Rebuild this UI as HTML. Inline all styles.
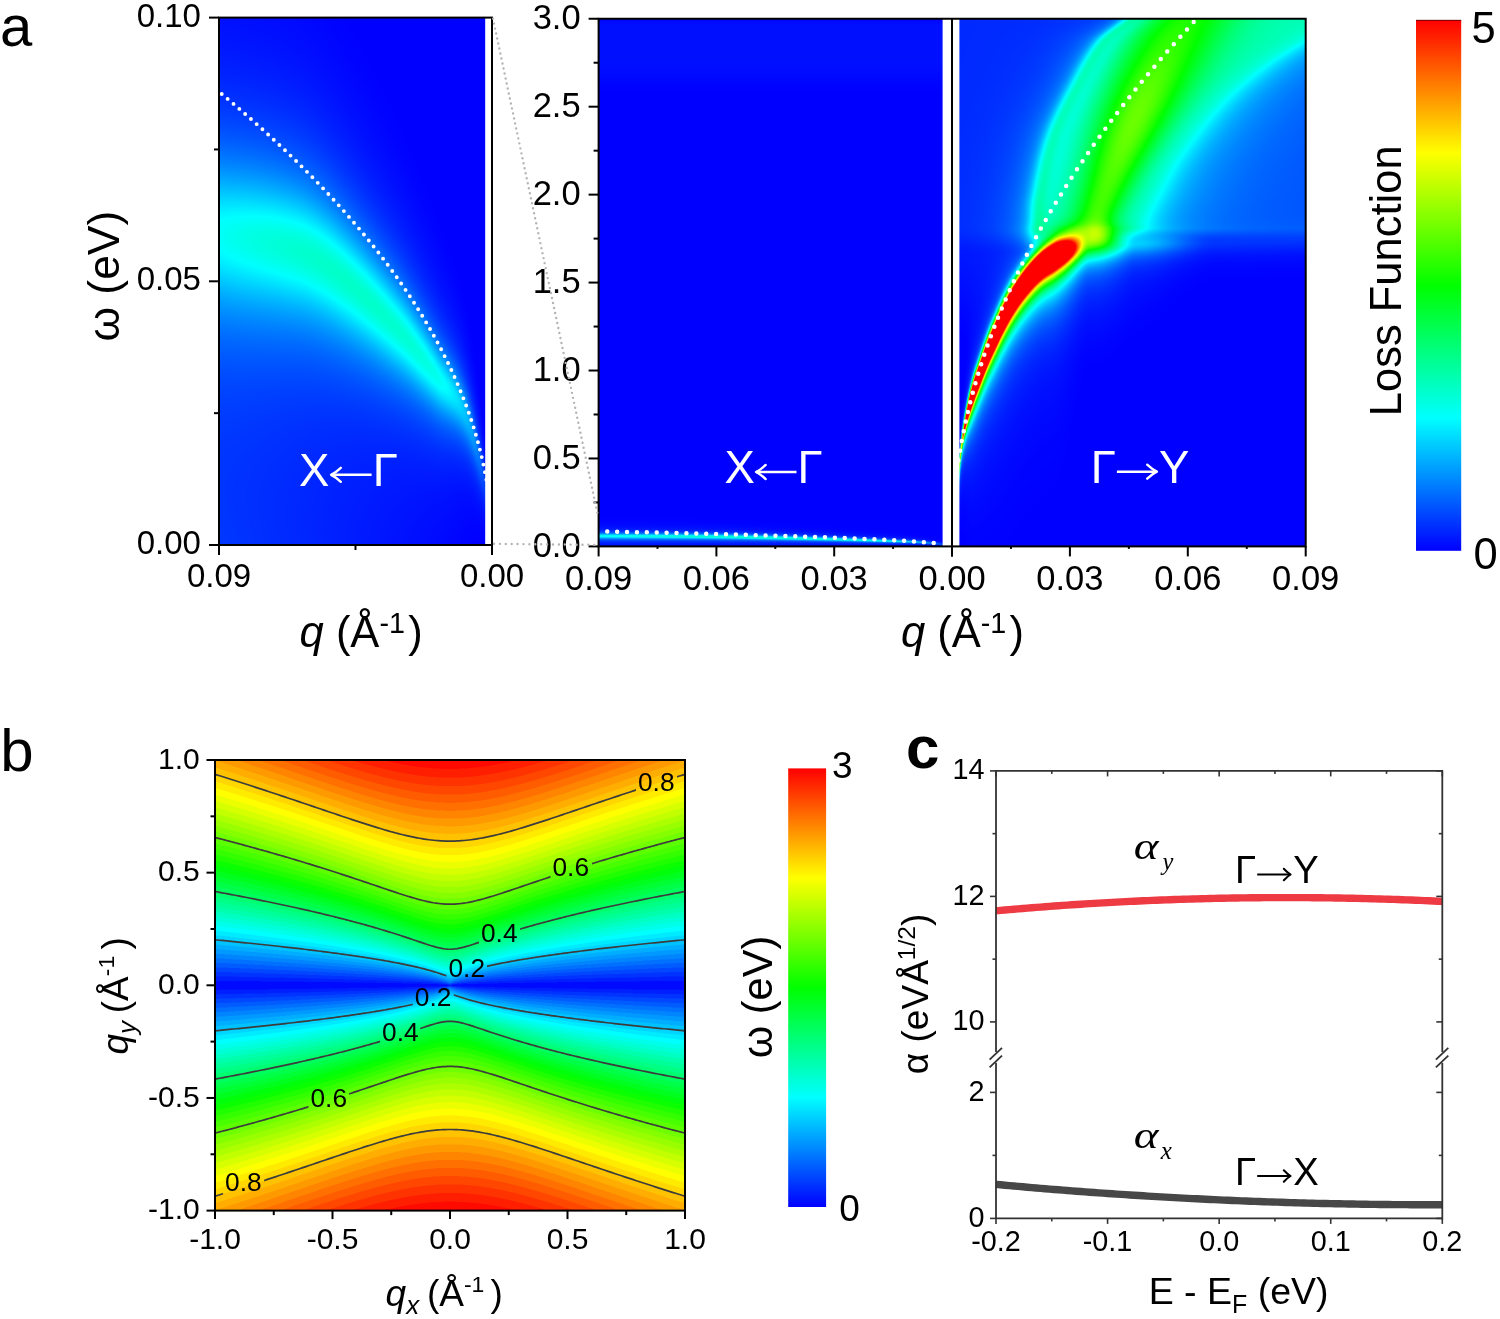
<!DOCTYPE html>
<html><head><meta charset="utf-8"><title>figure</title>
<style>
html,body{margin:0;padding:0;background:#fff;}
body{width:1500px;height:1319px;overflow:hidden;position:relative;font-family:'Liberation Sans', sans-serif;}
canvas{position:absolute;display:block;}
#ov{position:absolute;left:0;top:0;}
</style></head><body>
<canvas id="ca1" width="267" height="527" style="left:219px;top:18px;width:267px;height:527px;background:#0010ff"></canvas>
<canvas id="ca2" width="344" height="527" style="left:599px;top:19px;width:344px;height:527px;background:#0008f8"></canvas>
<canvas id="ca3" width="346" height="527" style="left:959px;top:19px;width:346px;height:527px;background:#0020ff"></canvas>
<canvas id="cb" width="470" height="451" style="left:215px;top:760px;width:470px;height:451px;background:linear-gradient(to bottom,#ff1000 0%,#ff9000 9%,#ffff00 21%,#00ff00 34%,#00ffff 44%,#0000ff 50%,#00ffff 56%,#00ff00 66%,#ffff00 79%,#ff9000 91%,#ff1000 100%)"></canvas>
<svg id="ov" width="1500" height="1319" viewBox="0 0 1500 1319">
<defs><linearGradient id="rb" x1="0" y1="1" x2="0" y2="0"><stop offset="0" stop-color="#0000ff"/><stop offset="0.25" stop-color="#00ffff"/><stop offset="0.5" stop-color="#00ff00"/><stop offset="0.75" stop-color="#ffff00"/><stop offset="1" stop-color="#ff0000"/></linearGradient></defs>
<rect x="485.2" y="18" width="6.5" height="527" fill="#fff"/>
<path d="M221.73 93.97 L222.34 94.48 L222.94 94.99 L223.55 95.49 L224.16 96 L224.76 96.51 L225.37 97.02 L225.98 97.53 L226.58 98.04 L227.19 98.55 L227.8 99.06 L228.4 99.57 L229.01 100.09 L229.62 100.6 L230.22 101.12 L230.83 101.63 L231.44 102.15 L232.04 102.66 L232.65 103.18 L233.26 103.69 L233.86 104.21 L234.47 104.73 L235.08 105.25 L235.68 105.77 L236.29 106.29 L236.9 106.81 L237.5 107.33 L238.11 107.85 L238.72 108.38 L239.32 108.9 L239.93 109.42 L240.54 109.95 L241.14 110.47 L241.75 111 L242.36 111.52 L242.96 112.05 L243.57 112.58 L244.18 113.11 L244.78 113.64 L245.39 114.17 L246 114.7 L246.6 115.23 L247.21 115.76 L247.82 116.29 L248.42 116.82 L249.03 117.36 L249.64 117.89 L250.24 118.43 L250.85 118.96 L251.46 119.5 L252.06 120.04 L252.67 120.57 L253.28 121.11 L253.88 121.65 L254.49 122.19 L255.1 122.73 L255.7 123.27 L256.31 123.81 L256.92 124.36 L257.52 124.9 L258.13 125.44 L258.74 125.99 L259.34 126.53 L259.95 127.08 L260.56 127.62 L261.16 128.17 L261.77 128.72 L262.38 129.27 L262.98 129.82 L263.59 130.37 L264.2 130.92 L264.8 131.47 L265.41 132.02 L266.02 132.58 L266.62 133.13 L267.23 133.69 L267.84 134.24 L268.44 134.8 L269.05 135.35 L269.66 135.91 L270.26 136.47 L270.87 137.03 L271.48 137.59 L272.08 138.15 L272.69 138.71 L273.3 139.27 L273.9 139.84 L274.51 140.4 L275.12 140.97 L275.72 141.53 L276.33 142.1 L276.94 142.66 L277.54 143.23 L278.15 143.8 L278.76 144.37 L279.36 144.94 L279.97 145.51 L280.58 146.08 L281.18 146.66 L281.79 147.23 L282.4 147.8 L283 148.38 L283.61 148.96 L284.22 149.53 L284.82 150.11 L285.43 150.69 L286.04 151.27 L286.64 151.85 L287.25 152.43 L287.86 153.01 L288.46 153.6 L289.07 154.18 L289.68 154.76 L290.28 155.35 L290.89 155.94 L291.5 156.52 L292.1 157.11 L292.71 157.7 L293.32 158.29 L293.92 158.88 L294.53 159.47 L295.14 160.07 L295.74 160.66 L296.35 161.25 L296.96 161.85 L297.56 162.45 L298.17 163.04 L298.78 163.64 L299.38 164.24 L299.99 164.84 L300.6 165.44 L301.2 166.04 L301.81 166.65 L302.42 167.25 L303.02 167.85 L303.63 168.46 L304.24 169.07 L304.84 169.68 L305.45 170.28 L306.06 170.89 L306.66 171.5 L307.27 172.12 L307.88 172.73 L308.48 173.34 L309.09 173.96 L309.7 174.57 L310.3 175.19 L310.91 175.81 L311.52 176.43 L312.12 177.05 L312.73 177.67 L313.34 178.29 L313.94 178.91 L314.55 179.54 L315.16 180.16 L315.76 180.79 L316.37 181.42 L316.98 182.05 L317.58 182.67 L318.19 183.31 L318.8 183.94 L319.4 184.57 L320.01 185.2 L320.62 185.84 L321.22 186.48 L321.83 187.11 L322.44 187.75 L323.04 188.39 L323.65 189.03 L324.26 189.67 L324.86 190.32 L325.47 190.96 L326.08 191.61 L326.68 192.25 L327.29 192.9 L327.9 193.55 L328.5 194.2 L329.11 194.85 L329.72 195.5 L330.32 196.16 L330.93 196.81 L331.54 197.47 L332.14 198.13 L332.75 198.79 L333.36 199.45 L333.96 200.11 L334.57 200.77 L335.18 201.43 L335.78 202.1 L336.39 202.77 L337 203.43 L337.6 204.1 L338.21 204.77 L338.82 205.44 L339.42 206.12 L340.03 206.79 L340.64 207.47 L341.24 208.15 L341.85 208.82 L342.46 209.5 L343.06 210.18 L343.67 210.87 L344.28 211.55 L344.88 212.24 L345.49 212.92 L346.1 213.61 L346.7 214.3 L347.31 214.99 L347.92 215.68 L348.52 216.38 L349.13 217.07 L349.74 217.77 L350.34 218.47 L350.95 219.17 L351.56 219.87 L352.16 220.57 L352.77 221.28 L353.38 221.98 L353.98 222.69 L354.59 223.4 L355.2 224.11 L355.8 224.82 L356.41 225.54 L357.02 226.25 L357.62 226.97 L358.23 227.69 L358.84 228.41 L359.44 229.13 L360.05 229.86 L360.66 230.58 L361.26 231.31 L361.87 232.04 L362.48 232.77 L363.08 233.5 L363.69 234.23 L364.3 234.97 L364.9 235.71 L365.51 236.44 L366.12 237.19 L366.72 237.93 L367.33 238.67 L367.94 239.42 L368.54 240.17 L369.15 240.92 L369.76 241.67 L370.36 242.42 L370.97 243.18 L371.58 243.94 L372.18 244.69 L372.79 245.46 L373.4 246.22 L374 246.98 L374.61 247.75 L375.22 248.52 L375.82 249.29 L376.43 250.06 L377.04 250.84 L377.64 251.62 L378.25 252.4 L378.86 253.18 L379.46 253.96 L380.07 254.75 L380.68 255.53 L381.28 256.32 L381.89 257.12 L382.5 257.91 L383.1 258.71 L383.71 259.5 L384.32 260.31 L384.92 261.11 L385.53 261.91 L386.14 262.72 L386.74 263.53 L387.35 264.34 L387.96 265.16 L388.56 265.98 L389.17 266.8 L389.78 267.62 L390.38 268.44 L390.99 269.27 L391.6 270.1 L392.2 270.93 L392.81 271.76 L393.42 272.6 L394.02 273.44 L394.63 274.28 L395.24 275.13 L395.84 275.97 L396.45 276.82 L397.06 277.68 L397.66 278.53 L398.27 279.39 L398.88 280.25 L399.48 281.12 L400.09 281.98 L400.7 282.85 L401.3 283.72 L401.91 284.6 L402.52 285.48 L403.12 286.36 L403.73 287.24 L404.34 288.13 L404.94 289.02 L405.55 289.91 L406.16 290.81 L406.76 291.71 L407.37 292.61 L407.98 293.52 L408.58 294.43 L409.19 295.34 L409.8 296.26 L410.4 297.18 L411.01 298.1 L411.62 299.03 L412.22 299.96 L412.83 300.89 L413.44 301.83 L414.04 302.77 L414.65 303.71 L415.26 304.66 L415.86 305.61 L416.47 306.57 L417.08 307.53 L417.68 308.49 L418.29 309.46 L418.9 310.43 L419.5 311.4 L420.11 312.38 L420.72 313.37 L421.32 314.36 L421.93 315.35 L422.54 316.34 L423.14 317.34 L423.75 318.35 L424.36 319.36 L424.96 320.37 L425.57 321.39 L426.18 322.42 L426.78 323.44 L427.39 324.48 L428 325.51 L428.6 326.56 L429.21 327.6 L429.82 328.66 L430.42 329.72 L431.03 330.78 L431.64 331.85 L432.24 332.92 L432.85 334 L433.46 335.09 L434.06 336.18 L434.67 337.27 L435.28 338.37 L435.88 339.48 L436.49 340.6 L437.1 341.72 L437.7 342.84 L438.31 343.97 L438.92 345.11 L439.52 346.26 L440.13 347.41 L440.74 348.57 L441.34 349.74 L441.95 350.91 L442.56 352.09 L443.16 353.28 L443.77 354.47 L444.38 355.67 L444.98 356.88 L445.59 358.1 L446.2 359.33 L446.8 360.56 L447.41 361.8 L448.02 363.05 L448.62 364.31 L449.23 365.58 L449.84 366.86 L450.44 368.14 L451.05 369.44 L451.66 370.74 L452.26 372.06 L452.87 373.38 L453.48 374.72 L454.08 376.06 L454.69 377.42 L455.3 378.79 L455.9 380.17 L456.51 381.56 L457.12 382.96 L457.72 384.38 L458.33 385.81 L458.94 387.25 L459.54 388.7 L460.15 390.17 L460.76 391.65 L461.36 393.15 L461.97 394.66 L462.58 396.18 L463.18 397.73 L463.79 399.28 L464.4 400.86 L465 402.45 L465.61 404.06 L466.22 405.69 L466.82 407.34 L467.43 409.01 L468.04 410.7 L468.64 412.41 L469.25 414.14 L469.86 415.9 L470.46 417.68 L471.07 419.49 L471.68 421.32 L472.28 423.18 L472.89 425.07 L473.5 426.99 L474.1 428.94 L474.71 430.92 L475.32 432.94 L475.92 435 L476.53 437.09 L477.14 439.23 L477.74 441.41 L478.35 443.64 L478.96 445.92 L479.56 448.25 L480.17 450.64 L480.78 453.09 L481.38 455.61 L481.99 458.2 L482.6 460.87 L483.2 463.63 L483.81 466.49 L484.42 469.45 L485.02 472.53 L485.63 475.76 L486.24 479.14 L486.84 482.7 L487.45 486.48" fill="none" stroke="#fff" stroke-width="3.9" stroke-linecap="round" stroke-dasharray="0 7.7"/>
<rect x="219" y="17.6" width="273" height="527.4" fill="none" stroke="#000" stroke-width="2"/>
<line x1="209" y1="545" x2="219" y2="545" stroke="#000" stroke-width="2" />
<line x1="214" y1="413.15" x2="219" y2="413.15" stroke="#000" stroke-width="2" />
<line x1="209" y1="281.3" x2="219" y2="281.3" stroke="#000" stroke-width="2" />
<line x1="214" y1="149.45" x2="219" y2="149.45" stroke="#000" stroke-width="2" />
<line x1="209" y1="17.6" x2="219" y2="17.6" stroke="#000" stroke-width="2" />
<line x1="219" y1="545" x2="219" y2="555" stroke="#000" stroke-width="2" />
<line x1="355.5" y1="545" x2="355.5" y2="550" stroke="#000" stroke-width="2" />
<line x1="492" y1="545" x2="492" y2="555" stroke="#000" stroke-width="2" />
<text x="200.9" y="553.9" font-size="33" text-anchor="end" fill="#000" font-family="'Liberation Sans', sans-serif" >0.00</text>
<text x="200.9" y="290.2" font-size="33" text-anchor="end" fill="#000" font-family="'Liberation Sans', sans-serif" >0.05</text>
<text x="200.9" y="26.5" font-size="33" text-anchor="end" fill="#000" font-family="'Liberation Sans', sans-serif" >0.10</text>
<text x="219" y="587.3" font-size="33" text-anchor="middle" fill="#000" font-family="'Liberation Sans', sans-serif" >0.09</text>
<text x="492" y="587.3" font-size="33" text-anchor="middle" fill="#000" font-family="'Liberation Sans', sans-serif" >0.00</text>
<text x="0" y="0" font-size="44.4" text-anchor="middle" fill="#000" font-family="'Liberation Sans', sans-serif" transform="translate(118.8,276.2) rotate(-90)">ω (eV)</text>
<text x="299.6" y="647.2" font-size="43.5" font-family="'Liberation Sans', sans-serif"><tspan font-style="italic">q</tspan> (Å<tspan font-size="28.71" dy="-14.36">-1</tspan><tspan dy="14.36" dx="3.26">)</tspan></text>
<rect x="942.6" y="19" width="16.8" height="527" fill="#fff"/>
<path d="M607.24 531.47 L608.42 531.49 L609.59 531.52 L610.77 531.55 L611.95 531.57 L613.13 531.6 L614.31 531.62 L615.48 531.65 L616.66 531.67 L617.84 531.7 L619.02 531.73 L620.2 531.75 L621.37 531.78 L622.55 531.8 L623.73 531.83 L624.91 531.86 L626.09 531.88 L627.26 531.91 L628.44 531.94 L629.62 531.96 L630.8 531.99 L631.98 532.01 L633.15 532.04 L634.33 532.07 L635.51 532.09 L636.69 532.12 L637.87 532.15 L639.04 532.17 L640.22 532.2 L641.4 532.23 L642.58 532.25 L643.76 532.28 L644.93 532.31 L646.11 532.34 L647.29 532.36 L648.47 532.39 L649.65 532.42 L650.82 532.44 L652 532.47 L653.18 532.5 L654.36 532.53 L655.54 532.55 L656.71 532.58 L657.89 532.61 L659.07 532.64 L660.25 532.66 L661.43 532.69 L662.6 532.72 L663.78 532.75 L664.96 532.78 L666.14 532.8 L667.32 532.83 L668.49 532.86 L669.67 532.89 L670.85 532.92 L672.03 532.94 L673.21 532.97 L674.38 533 L675.56 533.03 L676.74 533.06 L677.92 533.09 L679.1 533.12 L680.27 533.14 L681.45 533.17 L682.63 533.2 L683.81 533.23 L684.99 533.26 L686.16 533.29 L687.34 533.32 L688.52 533.35 L689.7 533.38 L690.88 533.41 L692.05 533.43 L693.23 533.46 L694.41 533.49 L695.59 533.52 L696.77 533.55 L697.94 533.58 L699.12 533.61 L700.3 533.64 L701.48 533.67 L702.66 533.7 L703.83 533.73 L705.01 533.76 L706.19 533.79 L707.37 533.82 L708.55 533.85 L709.72 533.88 L710.9 533.91 L712.08 533.94 L713.26 533.97 L714.44 534.01 L715.61 534.04 L716.79 534.07 L717.97 534.1 L719.15 534.13 L720.33 534.16 L721.5 534.19 L722.68 534.22 L723.86 534.25 L725.04 534.29 L726.22 534.32 L727.39 534.35 L728.57 534.38 L729.75 534.41 L730.93 534.44 L732.11 534.48 L733.28 534.51 L734.46 534.54 L735.64 534.57 L736.82 534.6 L738 534.64 L739.17 534.67 L740.35 534.7 L741.53 534.73 L742.71 534.77 L743.89 534.8 L745.06 534.83 L746.24 534.87 L747.42 534.9 L748.6 534.93 L749.78 534.96 L750.95 535 L752.13 535.03 L753.31 535.06 L754.49 535.1 L755.67 535.13 L756.84 535.17 L758.02 535.2 L759.2 535.23 L760.38 535.27 L761.56 535.3 L762.73 535.34 L763.91 535.37 L765.09 535.41 L766.27 535.44 L767.45 535.48 L768.62 535.51 L769.8 535.55 L770.98 535.58 L772.16 535.62 L773.34 535.65 L774.51 535.69 L775.69 535.72 L776.87 535.76 L778.05 535.79 L779.23 535.83 L780.4 535.87 L781.58 535.9 L782.76 535.94 L783.94 535.98 L785.12 536.01 L786.29 536.05 L787.47 536.09 L788.65 536.12 L789.83 536.16 L791.01 536.2 L792.18 536.23 L793.36 536.27 L794.54 536.31 L795.72 536.35 L796.9 536.39 L798.07 536.42 L799.25 536.46 L800.43 536.5 L801.61 536.54 L802.79 536.58 L803.96 536.62 L805.14 536.65 L806.32 536.69 L807.5 536.73 L808.68 536.77 L809.85 536.81 L811.03 536.85 L812.21 536.89 L813.39 536.93 L814.57 536.97 L815.74 537.01 L816.92 537.05 L818.1 537.09 L819.28 537.14 L820.46 537.18 L821.63 537.22 L822.81 537.26 L823.99 537.3 L825.17 537.34 L826.35 537.39 L827.52 537.43 L828.7 537.47 L829.88 537.51 L831.06 537.56 L832.24 537.6 L833.41 537.64 L834.59 537.69 L835.77 537.73 L836.95 537.77 L838.13 537.82 L839.3 537.86 L840.48 537.91 L841.66 537.95 L842.84 538 L844.02 538.04 L845.19 538.09 L846.37 538.14 L847.55 538.18 L848.73 538.23 L849.91 538.27 L851.08 538.32 L852.26 538.37 L853.44 538.42 L854.62 538.46 L855.8 538.51 L856.97 538.56 L858.15 538.61 L859.33 538.66 L860.51 538.71 L861.69 538.76 L862.86 538.81 L864.04 538.86 L865.22 538.91 L866.4 538.96 L867.58 539.01 L868.75 539.06 L869.93 539.12 L871.11 539.17 L872.29 539.22 L873.47 539.27 L874.64 539.33 L875.82 539.38 L877 539.44 L878.18 539.49 L879.36 539.55 L880.53 539.6 L881.71 539.66 L882.89 539.71 L884.07 539.77 L885.25 539.83 L886.42 539.89 L887.6 539.95 L888.78 540.01 L889.96 540.07 L891.14 540.13 L892.31 540.19 L893.49 540.25 L894.67 540.31 L895.85 540.37 L897.03 540.44 L898.2 540.5 L899.38 540.57 L900.56 540.63 L901.74 540.7 L902.92 540.77 L904.09 540.83 L905.27 540.9 L906.45 540.97 L907.63 541.04 L908.81 541.11 L909.98 541.19 L911.16 541.26 L912.34 541.34 L913.52 541.41 L914.7 541.49 L915.87 541.57 L917.05 541.65 L918.23 541.73 L919.41 541.81 L920.59 541.89 L921.76 541.98 L922.94 542.07 L924.12 542.15 L925.3 542.24 L926.48 542.34 L927.65 542.43 L928.83 542.53 L930.01 542.63 L931.19 542.73 L932.37 542.84 L933.54 542.95 L934.72 543.06 L935.9 543.17 L937.08 543.29 L938.26 543.42 L939.43 543.55 L940.61 543.69 L941.79 543.83 L942.97 543.98" fill="none" stroke="#fff" stroke-width="4.5" stroke-linecap="round" stroke-dasharray="0 9.9"/>
<clipPath id="a2rclip"><rect x="958.6" y="19" width="347" height="527"/></clipPath>
<path clip-path="url(#a2rclip)" d="M1193.7 22.12 L1193.3 22.54 L1192.91 22.97 L1192.52 23.4 L1192.12 23.82 L1191.73 24.25 L1191.34 24.68 L1190.94 25.11 L1190.55 25.54 L1190.16 25.97 L1189.76 26.4 L1189.37 26.83 L1188.98 27.26 L1188.59 27.69 L1188.19 28.12 L1187.8 28.55 L1187.41 28.98 L1187.01 29.41 L1186.62 29.85 L1186.23 30.28 L1185.83 30.71 L1185.44 31.14 L1185.05 31.58 L1184.66 32.01 L1184.26 32.45 L1183.87 32.88 L1183.48 33.32 L1183.08 33.75 L1182.69 34.19 L1182.3 34.63 L1181.9 35.06 L1181.51 35.5 L1181.12 35.94 L1180.73 36.38 L1180.33 36.81 L1179.94 37.25 L1179.55 37.69 L1179.15 38.13 L1178.76 38.57 L1178.37 39.01 L1177.97 39.45 L1177.58 39.89 L1177.19 40.33 L1176.8 40.78 L1176.4 41.22 L1176.01 41.66 L1175.62 42.1 L1175.22 42.55 L1174.83 42.99 L1174.44 43.44 L1174.04 43.88 L1173.65 44.32 L1173.26 44.77 L1172.87 45.22 L1172.47 45.66 L1172.08 46.11 L1171.69 46.56 L1171.29 47 L1170.9 47.45 L1170.51 47.9 L1170.11 48.35 L1169.72 48.8 L1169.33 49.25 L1168.94 49.69 L1168.54 50.14 L1168.15 50.6 L1167.76 51.05 L1167.36 51.5 L1166.97 51.95 L1166.58 52.4 L1166.18 52.85 L1165.79 53.31 L1165.4 53.76 L1165.01 54.21 L1164.61 54.67 L1164.22 55.12 L1163.83 55.58 L1163.43 56.03 L1163.04 56.49 L1162.65 56.95 L1162.25 57.4 L1161.86 57.86 L1161.47 58.32 L1161.08 58.78 L1160.68 59.23 L1160.29 59.69 L1159.9 60.15 L1159.5 60.61 L1159.11 61.07 L1158.72 61.53 L1158.32 61.99 L1157.93 62.46 L1157.54 62.92 L1157.15 63.38 L1156.75 63.84 L1156.36 64.31 L1155.97 64.77 L1155.57 65.23 L1155.18 65.7 L1154.79 66.16 L1154.39 66.63 L1154 67.1 L1153.61 67.56 L1153.22 68.03 L1152.82 68.5 L1152.43 68.97 L1152.04 69.43 L1151.64 69.9 L1151.25 70.37 L1150.86 70.84 L1150.46 71.31 L1150.07 71.78 L1149.68 72.25 L1149.29 72.72 L1148.89 73.2 L1148.5 73.67 L1148.11 74.14 L1147.71 74.62 L1147.32 75.09 L1146.93 75.56 L1146.53 76.04 L1146.14 76.51 L1145.75 76.99 L1145.36 77.47 L1144.96 77.94 L1144.57 78.42 L1144.18 78.9 L1143.78 79.38 L1143.39 79.85 L1143 80.33 L1142.6 80.81 L1142.21 81.29 L1141.82 81.77 L1141.43 82.26 L1141.03 82.74 L1140.64 83.22 L1140.25 83.7 L1139.85 84.19 L1139.46 84.67 L1139.07 85.15 L1138.67 85.64 L1138.28 86.12 L1137.89 86.61 L1137.5 87.1 L1137.1 87.58 L1136.71 88.07 L1136.32 88.56 L1135.92 89.05 L1135.53 89.54 L1135.14 90.02 L1134.74 90.51 L1134.35 91.01 L1133.96 91.5 L1133.57 91.99 L1133.17 92.48 L1132.78 92.97 L1132.39 93.47 L1131.99 93.96 L1131.6 94.45 L1131.21 94.95 L1130.81 95.44 L1130.42 95.94 L1130.03 96.44 L1129.64 96.93 L1129.24 97.43 L1128.85 97.93 L1128.46 98.43 L1128.06 98.93 L1127.67 99.43 L1127.28 99.93 L1126.88 100.43 L1126.49 100.93 L1126.1 101.43 L1125.71 101.93 L1125.31 102.44 L1124.92 102.94 L1124.53 103.44 L1124.13 103.95 L1123.74 104.45 L1123.35 104.96 L1122.95 105.47 L1122.56 105.97 L1122.17 106.48 L1121.78 106.99 L1121.38 107.5 L1120.99 108.01 L1120.6 108.52 L1120.2 109.03 L1119.81 109.54 L1119.42 110.05 L1119.02 110.56 L1118.63 111.08 L1118.24 111.59 L1117.85 112.1 L1117.45 112.62 L1117.06 113.13 L1116.67 113.65 L1116.27 114.17 L1115.88 114.68 L1115.49 115.2 L1115.09 115.72 L1114.7 116.24 L1114.31 116.76 L1113.92 117.28 L1113.52 117.8 L1113.13 118.32 L1112.74 118.85 L1112.34 119.37 L1111.95 119.89 L1111.56 120.42 L1111.16 120.94 L1110.77 121.47 L1110.38 121.99 L1109.99 122.52 L1109.59 123.05 L1109.2 123.58 L1108.81 124.11 L1108.41 124.63 L1108.02 125.17 L1107.63 125.7 L1107.23 126.23 L1106.84 126.76 L1106.45 127.29 L1106.06 127.83 L1105.66 128.36 L1105.27 128.9 L1104.88 129.43 L1104.48 129.97 L1104.09 130.5 L1103.7 131.04 L1103.3 131.58 L1102.91 132.12 L1102.52 132.66 L1102.13 133.2 L1101.73 133.74 L1101.34 134.28 L1100.95 134.83 L1100.55 135.37 L1100.16 135.91 L1099.77 136.46 L1099.37 137 L1098.98 137.55 L1098.59 138.1 L1098.2 138.64 L1097.8 139.19 L1097.41 139.74 L1097.02 140.29 L1096.62 140.84 L1096.23 141.39 L1095.84 141.95 L1095.44 142.5 L1095.05 143.05 L1094.66 143.61 L1094.27 144.16 L1093.87 144.72 L1093.48 145.27 L1093.09 145.83 L1092.69 146.39 L1092.3 146.95 L1091.91 147.51 L1091.51 148.07 L1091.12 148.63 L1090.73 149.19 L1090.34 149.76 L1089.94 150.32 L1089.55 150.88 L1089.16 151.45 L1088.76 152.02 L1088.37 152.58 L1087.98 153.15 L1087.58 153.72 L1087.19 154.29 L1086.8 154.86 L1086.41 155.43 L1086.01 156 L1085.62 156.58 L1085.23 157.15 L1084.83 157.72 L1084.44 158.3 L1084.05 158.88 L1083.65 159.45 L1083.26 160.03 L1082.87 160.61 L1082.48 161.19 L1082.08 161.77 L1081.69 162.35 L1081.3 162.93 L1080.9 163.52 L1080.51 164.1 L1080.12 164.69 L1079.72 165.27 L1079.33 165.86 L1078.94 166.45 L1078.55 167.04 L1078.15 167.62 L1077.76 168.22 L1077.37 168.81 L1076.97 169.4 L1076.58 169.99 L1076.19 170.59 L1075.79 171.18 L1075.4 171.78 L1075.01 172.37 L1074.62 172.97 L1074.22 173.57 L1073.83 174.17 L1073.44 174.77 L1073.04 175.37 L1072.65 175.98 L1072.26 176.58 L1071.86 177.19 L1071.47 177.79 L1071.08 178.4 L1070.69 179.01 L1070.29 179.61 L1069.9 180.22 L1069.51 180.83 L1069.11 181.45 L1068.72 182.06 L1068.33 182.67 L1067.93 183.29 L1067.54 183.9 L1067.15 184.52 L1066.76 185.14 L1066.36 185.76 L1065.97 186.38 L1065.58 187 L1065.18 187.62 L1064.79 188.25 L1064.4 188.87 L1064 189.5 L1063.61 190.12 L1063.22 190.75 L1062.83 191.38 L1062.43 192.01 L1062.04 192.64 L1061.65 193.27 L1061.25 193.91 L1060.86 194.54 L1060.47 195.18 L1060.07 195.81 L1059.68 196.45 L1059.29 197.09 L1058.9 197.73 L1058.5 198.37 L1058.11 199.02 L1057.72 199.66 L1057.32 200.3 L1056.93 200.95 L1056.54 201.6 L1056.14 202.25 L1055.75 202.9 L1055.36 203.55 L1054.97 204.2 L1054.57 204.85 L1054.18 205.51 L1053.79 206.16 L1053.39 206.82 L1053 207.48 L1052.61 208.14 L1052.21 208.8 L1051.82 209.47 L1051.43 210.13 L1051.04 210.79 L1050.64 211.46 L1050.25 212.13 L1049.86 212.8 L1049.46 213.47 L1049.07 214.14 L1048.68 214.81 L1048.28 215.49 L1047.89 216.16 L1047.5 216.84 L1047.11 217.52 L1046.71 218.2 L1046.32 218.88 L1045.93 219.57 L1045.53 220.25 L1045.14 220.94 L1044.75 221.62 L1044.35 222.31 L1043.96 223 L1043.57 223.69 L1043.18 224.39 L1042.78 225.08 L1042.39 225.78 L1042 226.48 L1041.6 227.18 L1041.21 227.88 L1040.82 228.58 L1040.42 229.28 L1040.03 229.99 L1039.64 230.69 L1039.25 231.4 L1038.85 232.11 L1038.46 232.83 L1038.07 233.54 L1037.67 234.25 L1037.28 234.97 L1036.89 235.69 L1036.49 236.41 L1036.1 237.13 L1035.71 237.85 L1035.32 238.58 L1034.92 239.31 L1034.53 240.04 L1034.14 240.77 L1033.74 241.5 L1033.35 242.23 L1032.96 242.97 L1032.56 243.7 L1032.17 244.44 L1031.78 245.18 L1031.39 245.93 L1030.99 246.67 L1030.6 247.42 L1030.21 248.17 L1029.81 248.92 L1029.42 249.67 L1029.03 250.42 L1028.63 251.18 L1028.24 251.94 L1027.85 252.7 L1027.46 253.46 L1027.06 254.22 L1026.67 254.99 L1026.28 255.76 L1025.88 256.53 L1025.49 257.3 L1025.1 258.07 L1024.7 258.85 L1024.31 259.63 L1023.92 260.41 L1023.53 261.19 L1023.13 261.97 L1022.74 262.76 L1022.35 263.55 L1021.95 264.34 L1021.56 265.13 L1021.17 265.93 L1020.77 266.73 L1020.38 267.53 L1019.99 268.33 L1019.6 269.14 L1019.2 269.94 L1018.81 270.75 L1018.42 271.56 L1018.02 272.38 L1017.63 273.2 L1017.24 274.01 L1016.84 274.84 L1016.45 275.66 L1016.06 276.49 L1015.67 277.32 L1015.27 278.15 L1014.88 278.98 L1014.49 279.82 L1014.09 280.66 L1013.7 281.5 L1013.31 282.35 L1012.91 283.19 L1012.52 284.04 L1012.13 284.9 L1011.74 285.75 L1011.34 286.61 L1010.95 287.47 L1010.56 288.34 L1010.16 289.21 L1009.77 290.08 L1009.38 290.95 L1008.98 291.83 L1008.59 292.71 L1008.2 293.59 L1007.81 294.47 L1007.41 295.36 L1007.02 296.25 L1006.63 297.15 L1006.23 298.05 L1005.84 298.95 L1005.45 299.85 L1005.05 300.76 L1004.66 301.67 L1004.27 302.59 L1003.88 303.51 L1003.48 304.43 L1003.09 305.35 L1002.7 306.28 L1002.3 307.21 L1001.91 308.15 L1001.52 309.09 L1001.12 310.03 L1000.73 310.98 L1000.34 311.93 L999.95 312.89 L999.55 313.85 L999.16 314.81 L998.77 315.78 L998.37 316.75 L997.98 317.72 L997.59 318.7 L997.19 319.69 L996.8 320.67 L996.41 321.67 L996.02 322.66 L995.62 323.66 L995.23 324.67 L994.84 325.68 L994.44 326.69 L994.05 327.71 L993.66 328.74 L993.26 329.77 L992.87 330.8 L992.48 331.84 L992.09 332.88 L991.69 333.93 L991.3 334.99 L990.91 336.05 L990.51 337.11 L990.12 338.18 L989.73 339.26 L989.33 340.34 L988.94 341.43 L988.55 342.52 L988.16 343.62 L987.76 344.73 L987.37 345.84 L986.98 346.95 L986.58 348.08 L986.19 349.21 L985.8 350.34 L985.4 351.49 L985.01 352.64 L984.62 353.79 L984.23 354.96 L983.83 356.13 L983.44 357.31 L983.05 358.49 L982.65 359.69 L982.26 360.89 L981.87 362.1 L981.47 363.31 L981.08 364.54 L980.69 365.77 L980.3 367.01 L979.9 368.26 L979.51 369.52 L979.12 370.79 L978.72 372.07 L978.33 373.35 L977.94 374.65 L977.54 375.95 L977.15 377.27 L976.76 378.6 L976.37 379.93 L975.97 381.28 L975.58 382.64 L975.19 384.01 L974.79 385.39 L974.4 386.79 L974.01 388.19 L973.61 389.61 L973.22 391.04 L972.83 392.49 L972.44 393.95 L972.04 395.42 L971.65 396.91 L971.26 398.41 L970.86 399.93 L970.47 401.46 L970.08 403.01 L969.68 404.58 L969.29 406.17 L968.9 407.77 L968.51 409.39 L968.11 411.03 L967.72 412.69 L967.33 414.37 L966.93 416.08 L966.54 417.8 L966.15 419.55 L965.75 421.33 L965.36 423.13 L964.97 424.95 L964.58 426.81 L964.18 428.69 L963.79 430.61 L963.4 432.55 L963 434.53 L962.61 436.55 L962.22 438.6 L961.82 440.69 L961.43 442.83 L961.04 445.01 L960.65 447.24 L960.25 449.52 L959.86 451.85 L959.47 454.25 L959.07 456.71 L958.68 459.23 L958.29 461.84" fill="none" stroke="#fff" stroke-width="4.5" stroke-linecap="round" stroke-dasharray="0 9.9"/>
<rect x="598.6" y="18.75" width="707.1" height="527.65" fill="none" stroke="#000" stroke-width="2"/>
<line x1="952" y1="18.75" x2="952" y2="546.4" stroke="#000" stroke-width="2" />
<line x1="588.6" y1="546.4" x2="598.6" y2="546.4" stroke="#000" stroke-width="2" />
<line x1="593.6" y1="502.43" x2="598.6" y2="502.43" stroke="#000" stroke-width="2" />
<line x1="588.6" y1="458.46" x2="598.6" y2="458.46" stroke="#000" stroke-width="2" />
<line x1="593.6" y1="414.49" x2="598.6" y2="414.49" stroke="#000" stroke-width="2" />
<line x1="588.6" y1="370.52" x2="598.6" y2="370.52" stroke="#000" stroke-width="2" />
<line x1="593.6" y1="326.55" x2="598.6" y2="326.55" stroke="#000" stroke-width="2" />
<line x1="588.6" y1="282.57" x2="598.6" y2="282.57" stroke="#000" stroke-width="2" />
<line x1="593.6" y1="238.6" x2="598.6" y2="238.6" stroke="#000" stroke-width="2" />
<line x1="588.6" y1="194.63" x2="598.6" y2="194.63" stroke="#000" stroke-width="2" />
<line x1="593.6" y1="150.66" x2="598.6" y2="150.66" stroke="#000" stroke-width="2" />
<line x1="588.6" y1="106.69" x2="598.6" y2="106.69" stroke="#000" stroke-width="2" />
<line x1="593.6" y1="62.72" x2="598.6" y2="62.72" stroke="#000" stroke-width="2" />
<line x1="588.6" y1="18.75" x2="598.6" y2="18.75" stroke="#000" stroke-width="2" />
<text x="580.6" y="556.5" font-size="34.5" text-anchor="end" fill="#000" font-family="'Liberation Sans', sans-serif" >0.0</text>
<text x="580.6" y="468.56" font-size="34.5" text-anchor="end" fill="#000" font-family="'Liberation Sans', sans-serif" >0.5</text>
<text x="580.6" y="380.62" font-size="34.5" text-anchor="end" fill="#000" font-family="'Liberation Sans', sans-serif" >1.0</text>
<text x="580.6" y="292.68" font-size="34.5" text-anchor="end" fill="#000" font-family="'Liberation Sans', sans-serif" >1.5</text>
<text x="580.6" y="204.73" font-size="34.5" text-anchor="end" fill="#000" font-family="'Liberation Sans', sans-serif" >2.0</text>
<text x="580.6" y="116.79" font-size="34.5" text-anchor="end" fill="#000" font-family="'Liberation Sans', sans-serif" >2.5</text>
<text x="580.6" y="28.85" font-size="34.5" text-anchor="end" fill="#000" font-family="'Liberation Sans', sans-serif" >3.0</text>
<line x1="952" y1="546.4" x2="952" y2="556.4" stroke="#000" stroke-width="2" />
<line x1="952" y1="546.4" x2="952" y2="556.4" stroke="#000" stroke-width="2" />
<line x1="893.1" y1="546.4" x2="893.1" y2="548.9" stroke="#000" stroke-width="2" />
<line x1="1010.95" y1="546.4" x2="1010.95" y2="548.9" stroke="#000" stroke-width="2" />
<line x1="834.2" y1="546.4" x2="834.2" y2="556.4" stroke="#000" stroke-width="2" />
<line x1="1069.9" y1="546.4" x2="1069.9" y2="556.4" stroke="#000" stroke-width="2" />
<line x1="775.3" y1="546.4" x2="775.3" y2="548.9" stroke="#000" stroke-width="2" />
<line x1="1128.85" y1="546.4" x2="1128.85" y2="548.9" stroke="#000" stroke-width="2" />
<line x1="716.4" y1="546.4" x2="716.4" y2="556.4" stroke="#000" stroke-width="2" />
<line x1="1187.8" y1="546.4" x2="1187.8" y2="556.4" stroke="#000" stroke-width="2" />
<line x1="657.5" y1="546.4" x2="657.5" y2="548.9" stroke="#000" stroke-width="2" />
<line x1="1246.75" y1="546.4" x2="1246.75" y2="548.9" stroke="#000" stroke-width="2" />
<line x1="598.6" y1="546.4" x2="598.6" y2="556.4" stroke="#000" stroke-width="2" />
<line x1="1305.7" y1="546.4" x2="1305.7" y2="556.4" stroke="#000" stroke-width="2" />
<text x="598.6" y="590.3" font-size="34.5" text-anchor="middle" fill="#000" font-family="'Liberation Sans', sans-serif" >0.09</text>
<text x="1305.7" y="590.3" font-size="34.5" text-anchor="middle" fill="#000" font-family="'Liberation Sans', sans-serif" >0.09</text>
<text x="716.4" y="590.3" font-size="34.5" text-anchor="middle" fill="#000" font-family="'Liberation Sans', sans-serif" >0.06</text>
<text x="1187.8" y="590.3" font-size="34.5" text-anchor="middle" fill="#000" font-family="'Liberation Sans', sans-serif" >0.06</text>
<text x="834.2" y="590.3" font-size="34.5" text-anchor="middle" fill="#000" font-family="'Liberation Sans', sans-serif" >0.03</text>
<text x="1069.9" y="590.3" font-size="34.5" text-anchor="middle" fill="#000" font-family="'Liberation Sans', sans-serif" >0.03</text>
<text x="952" y="590.3" font-size="34.5" text-anchor="middle" fill="#000" font-family="'Liberation Sans', sans-serif" >0.00</text>
<text x="901" y="647.2" font-size="43.5" font-family="'Liberation Sans', sans-serif"><tspan font-style="italic">q</tspan> (Å<tspan font-size="28.71" dy="-14.36">-1</tspan><tspan dy="14.36" dx="3.26">)</tspan></text>
<path d="M493 18.6 L598.1 516.5" stroke="#b4b4b4" stroke-width="2.4" stroke-linecap="round" stroke-dasharray="0 5.1" fill="none"/>
<path d="M494 543.8 L596.6 544.9" stroke="#b4b4b4" stroke-width="2.4" stroke-linecap="round" stroke-dasharray="0 5.9" fill="none"/>
<text x="299.08" y="485.7" font-size="45.5" text-anchor="start" fill="#fff" font-family="'Liberation Sans', sans-serif" >X</text>
<path d="M371.6 474.8 L331 474.8" stroke="#fff" stroke-width="2.4" fill="none"/>
<path d="M340.8 467.76 Q335.4 472.8 331.08 474.8 Q335.4 476.8 340.8 481.84" stroke="#fff" stroke-width="2.4" stroke-linecap="round" stroke-linejoin="round" fill="none"/>
<text x="372.77" y="485.7" font-size="45.5" text-anchor="start" fill="#fff" font-family="'Liberation Sans', sans-serif" >Γ</text>
<text x="724.48" y="483.2" font-size="45.5" text-anchor="start" fill="#fff" font-family="'Liberation Sans', sans-serif" >X</text>
<path d="M796.5 472 L755.9 472" stroke="#fff" stroke-width="2.4" fill="none"/>
<path d="M765.7 464.96 Q760.3 470 755.98 472 Q760.3 474 765.7 479.04" stroke="#fff" stroke-width="2.4" stroke-linecap="round" stroke-linejoin="round" fill="none"/>
<text x="797.57" y="483.2" font-size="45.5" text-anchor="start" fill="#fff" font-family="'Liberation Sans', sans-serif" >Γ</text>
<text x="1090.77" y="482.7" font-size="45.5" text-anchor="start" fill="#fff" font-family="'Liberation Sans', sans-serif" >Γ</text>
<path d="M1116.9 471.7 L1157 471.7" stroke="#fff" stroke-width="2.4" fill="none"/>
<path d="M1147.2 464.66 Q1152.6 469.7 1156.92 471.7 Q1152.6 473.7 1147.2 478.74" stroke="#fff" stroke-width="2.4" stroke-linecap="round" stroke-linejoin="round" fill="none"/>
<text x="1159.1" y="482.7" font-size="45.5" text-anchor="start" fill="#fff" font-family="'Liberation Sans', sans-serif" >Y</text>
<rect x="1416" y="20" width="45.2" height="530.8" fill="url(#rb)"/>
<line x1="1416" y1="20.3" x2="1461.2" y2="20.3" stroke="#400" stroke-width="0.8"/>
<text x="1471.56" y="43.3" font-size="43.5" text-anchor="start" fill="#000" font-family="'Liberation Sans', sans-serif" >5</text>
<text x="1473.6" y="569.1" font-size="43.5" text-anchor="start" fill="#000" font-family="'Liberation Sans', sans-serif" >0</text>
<text x="0" y="0" font-size="43.5" text-anchor="middle" fill="#000" font-family="'Liberation Sans', sans-serif" transform="translate(1401.2,280.8) rotate(-90)">Loss Function</text>
<text x="0" y="46.2" font-size="58" text-anchor="start" fill="#000" font-family="'Liberation Sans', sans-serif" >a</text>
<defs><mask id="lblmask" maskUnits="userSpaceOnUse" x="0" y="0" width="1500" height="1319"><rect x="0" y="0" width="1500" height="1319" fill="#fff"/>
<rect x="636" y="773.8" width="41" height="21.4" fill="#000"/>
<rect x="550.5" y="855.4" width="41.5" height="24.3" fill="#000"/>
<rect x="479" y="922.6" width="41" height="22.8" fill="#000"/>
<rect x="446.5" y="955.1" width="40.5" height="25.5" fill="#000"/>
<rect x="412.8" y="987.4" width="41" height="22.8" fill="#000"/>
<rect x="380.1" y="1021" width="40.1" height="23.8" fill="#000"/>
<rect x="308.5" y="1086.8" width="40.6" height="24.2" fill="#000"/>
<rect x="223.1" y="1169.9" width="41" height="25.1" fill="#000"/>
</mask><clipPath id="bclip"><rect x="215" y="760" width="470" height="450.6"/></clipPath></defs>
<g mask="url(#lblmask)" clip-path="url(#bclip)" fill="none" stroke="#3c3c3c" stroke-width="1.7">
<path d="M215 939.79 L217.35 940.01 L219.7 940.24 L222.05 940.46 L224.4 940.69 L226.75 940.92 L229.1 941.15 L231.45 941.38 L233.8 941.61 L236.15 941.84 L238.5 942.07 L240.85 942.31 L243.2 942.55 L245.55 942.78 L247.9 943.02 L250.25 943.27 L252.6 943.51 L254.95 943.75 L257.3 944 L259.65 944.24 L262 944.49 L264.35 944.74 L266.7 944.99 L269.05 945.24 L271.4 945.5 L273.75 945.75 L276.1 946.01 L278.45 946.27 L280.8 946.53 L283.15 946.79 L285.5 947.06 L287.85 947.32 L290.2 947.59 L292.55 947.86 L294.9 948.13 L297.25 948.41 L299.6 948.68 L301.95 948.96 L304.3 949.24 L306.65 949.53 L309 949.81 L311.35 950.1 L313.7 950.39 L316.05 950.68 L318.4 950.97 L320.75 951.27 L323.1 951.57 L325.45 951.87 L327.8 952.18 L330.15 952.48 L332.5 952.79 L334.85 953.11 L337.2 953.42 L339.55 953.74 L341.9 954.07 L344.25 954.39 L346.6 954.72 L348.95 955.06 L351.3 955.39 L353.65 955.74 L356 956.08 L358.35 956.43 L360.7 956.78 L363.05 957.14 L365.4 957.5 L367.75 957.87 L370.1 958.24 L372.45 958.62 L374.8 959 L377.15 959.39 L379.5 959.78 L381.85 960.18 L384.2 960.59 L386.55 961 L388.9 961.42 L391.25 961.85 L393.6 962.29 L395.95 962.73 L398.3 963.18 L400.65 963.65 L403 964.12 L405.35 964.6 L407.7 965.09 L410.05 965.6 L412.4 966.12 L414.75 966.65 L417.1 967.2 L419.45 967.76 L421.8 968.34 L424.15 968.94 L426.5 969.56 L428.85 970.21 L431.2 970.88 L433.55 971.57 L435.9 972.3 L438.25 973.05 L440.6 973.84 L442.95 974.63 L445.3 975.4 L447.65 976.03 L450 976.29 L452.35 976.03 L454.7 975.4 L457.05 974.63 L459.4 973.84 L461.75 973.05 L464.1 972.3 L466.45 971.57 L468.8 970.88 L471.15 970.21 L473.5 969.56 L475.85 968.94 L478.2 968.34 L480.55 967.76 L482.9 967.2 L485.25 966.65 L487.6 966.12 L489.95 965.6 L492.3 965.09 L494.65 964.6 L497 964.12 L499.35 963.65 L501.7 963.18 L504.05 962.73 L506.4 962.29 L508.75 961.85 L511.1 961.42 L513.45 961 L515.8 960.59 L518.15 960.18 L520.5 959.78 L522.85 959.39 L525.2 959 L527.55 958.62 L529.9 958.24 L532.25 957.87 L534.6 957.5 L536.95 957.14 L539.3 956.78 L541.65 956.43 L544 956.08 L546.35 955.74 L548.7 955.39 L551.05 955.06 L553.4 954.72 L555.75 954.39 L558.1 954.07 L560.45 953.74 L562.8 953.42 L565.15 953.11 L567.5 952.79 L569.85 952.48 L572.2 952.18 L574.55 951.87 L576.9 951.57 L579.25 951.27 L581.6 950.97 L583.95 950.68 L586.3 950.39 L588.65 950.1 L591 949.81 L593.35 949.53 L595.7 949.24 L598.05 948.96 L600.4 948.68 L602.75 948.41 L605.1 948.13 L607.45 947.86 L609.8 947.59 L612.15 947.32 L614.5 947.06 L616.85 946.79 L619.2 946.53 L621.55 946.27 L623.9 946.01 L626.25 945.75 L628.6 945.5 L630.95 945.24 L633.3 944.99 L635.65 944.74 L638 944.49 L640.35 944.24 L642.7 944 L645.05 943.75 L647.4 943.51 L649.75 943.27 L652.1 943.02 L654.45 942.78 L656.8 942.55 L659.15 942.31 L661.5 942.07 L663.85 941.84 L666.2 941.61 L668.55 941.38 L670.9 941.15 L673.25 940.92 L675.6 940.69 L677.95 940.46 L680.3 940.24 L682.65 940.01 L685 939.79"/>
<path d="M215 1030.81 L217.35 1030.59 L219.7 1030.36 L222.05 1030.14 L224.4 1029.91 L226.75 1029.68 L229.1 1029.45 L231.45 1029.22 L233.8 1028.99 L236.15 1028.76 L238.5 1028.53 L240.85 1028.29 L243.2 1028.05 L245.55 1027.82 L247.9 1027.58 L250.25 1027.33 L252.6 1027.09 L254.95 1026.85 L257.3 1026.6 L259.65 1026.36 L262 1026.11 L264.35 1025.86 L266.7 1025.61 L269.05 1025.36 L271.4 1025.1 L273.75 1024.85 L276.1 1024.59 L278.45 1024.33 L280.8 1024.07 L283.15 1023.81 L285.5 1023.54 L287.85 1023.28 L290.2 1023.01 L292.55 1022.74 L294.9 1022.47 L297.25 1022.19 L299.6 1021.92 L301.95 1021.64 L304.3 1021.36 L306.65 1021.07 L309 1020.79 L311.35 1020.5 L313.7 1020.21 L316.05 1019.92 L318.4 1019.63 L320.75 1019.33 L323.1 1019.03 L325.45 1018.73 L327.8 1018.42 L330.15 1018.12 L332.5 1017.81 L334.85 1017.49 L337.2 1017.18 L339.55 1016.86 L341.9 1016.53 L344.25 1016.21 L346.6 1015.88 L348.95 1015.54 L351.3 1015.21 L353.65 1014.86 L356 1014.52 L358.35 1014.17 L360.7 1013.82 L363.05 1013.46 L365.4 1013.1 L367.75 1012.73 L370.1 1012.36 L372.45 1011.98 L374.8 1011.6 L377.15 1011.21 L379.5 1010.82 L381.85 1010.42 L384.2 1010.01 L386.55 1009.6 L388.9 1009.18 L391.25 1008.75 L393.6 1008.31 L395.95 1007.87 L398.3 1007.42 L400.65 1006.95 L403 1006.48 L405.35 1006 L407.7 1005.51 L410.05 1005 L412.4 1004.48 L414.75 1003.95 L417.1 1003.4 L419.45 1002.84 L421.8 1002.26 L424.15 1001.66 L426.5 1001.04 L428.85 1000.39 L431.2 999.72 L433.55 999.03 L435.9 998.3 L438.25 997.55 L440.6 996.76 L442.95 995.97 L445.3 995.2 L447.65 994.57 L450 994.31 L452.35 994.57 L454.7 995.2 L457.05 995.97 L459.4 996.76 L461.75 997.55 L464.1 998.3 L466.45 999.03 L468.8 999.72 L471.15 1000.39 L473.5 1001.04 L475.85 1001.66 L478.2 1002.26 L480.55 1002.84 L482.9 1003.4 L485.25 1003.95 L487.6 1004.48 L489.95 1005 L492.3 1005.51 L494.65 1006 L497 1006.48 L499.35 1006.95 L501.7 1007.42 L504.05 1007.87 L506.4 1008.31 L508.75 1008.75 L511.1 1009.18 L513.45 1009.6 L515.8 1010.01 L518.15 1010.42 L520.5 1010.82 L522.85 1011.21 L525.2 1011.6 L527.55 1011.98 L529.9 1012.36 L532.25 1012.73 L534.6 1013.1 L536.95 1013.46 L539.3 1013.82 L541.65 1014.17 L544 1014.52 L546.35 1014.86 L548.7 1015.21 L551.05 1015.54 L553.4 1015.88 L555.75 1016.21 L558.1 1016.53 L560.45 1016.86 L562.8 1017.18 L565.15 1017.49 L567.5 1017.81 L569.85 1018.12 L572.2 1018.42 L574.55 1018.73 L576.9 1019.03 L579.25 1019.33 L581.6 1019.63 L583.95 1019.92 L586.3 1020.21 L588.65 1020.5 L591 1020.79 L593.35 1021.07 L595.7 1021.36 L598.05 1021.64 L600.4 1021.92 L602.75 1022.19 L605.1 1022.47 L607.45 1022.74 L609.8 1023.01 L612.15 1023.28 L614.5 1023.54 L616.85 1023.81 L619.2 1024.07 L621.55 1024.33 L623.9 1024.59 L626.25 1024.85 L628.6 1025.1 L630.95 1025.36 L633.3 1025.61 L635.65 1025.86 L638 1026.11 L640.35 1026.36 L642.7 1026.6 L645.05 1026.85 L647.4 1027.09 L649.75 1027.33 L652.1 1027.58 L654.45 1027.82 L656.8 1028.05 L659.15 1028.29 L661.5 1028.53 L663.85 1028.76 L666.2 1028.99 L668.55 1029.22 L670.9 1029.45 L673.25 1029.68 L675.6 1029.91 L677.95 1030.14 L680.3 1030.36 L682.65 1030.59 L685 1030.81"/>
<path d="M215 891.51 L217.35 891.94 L219.7 892.37 L222.05 892.81 L224.4 893.25 L226.75 893.69 L229.1 894.13 L231.45 894.58 L233.8 895.02 L236.15 895.47 L238.5 895.92 L240.85 896.38 L243.2 896.83 L245.55 897.29 L247.9 897.75 L250.25 898.22 L252.6 898.68 L254.95 899.15 L257.3 899.62 L259.65 900.09 L262 900.57 L264.35 901.05 L266.7 901.53 L269.05 902.01 L271.4 902.5 L273.75 902.99 L276.1 903.48 L278.45 903.97 L280.8 904.47 L283.15 904.97 L285.5 905.48 L287.85 905.98 L290.2 906.49 L292.55 907.01 L294.9 907.52 L297.25 908.04 L299.6 908.57 L301.95 909.09 L304.3 909.62 L306.65 910.16 L309 910.7 L311.35 911.24 L313.7 911.78 L316.05 912.33 L318.4 912.88 L320.75 913.44 L323.1 914 L325.45 914.57 L327.8 915.14 L330.15 915.71 L332.5 916.29 L334.85 916.87 L337.2 917.46 L339.55 918.06 L341.9 918.65 L344.25 919.26 L346.6 919.86 L348.95 920.48 L351.3 921.1 L353.65 921.72 L356 922.35 L358.35 922.99 L360.7 923.63 L363.05 924.27 L365.4 924.93 L367.75 925.59 L370.1 926.25 L372.45 926.93 L374.8 927.61 L377.15 928.29 L379.5 928.99 L381.85 929.69 L384.2 930.39 L386.55 931.11 L388.9 931.83 L391.25 932.56 L393.6 933.3 L395.95 934.04 L398.3 934.79 L400.65 935.55 L403 936.32 L405.35 937.09 L407.7 937.87 L410.05 938.66 L412.4 939.45 L414.75 940.24 L417.1 941.04 L419.45 941.83 L421.8 942.63 L424.15 943.41 L426.5 944.19 L428.85 944.96 L431.2 945.69 L433.55 946.4 L435.9 947.07 L438.25 947.67 L440.6 948.2 L442.95 948.64 L445.3 948.98 L447.65 949.18 L450 949.25 L452.35 949.18 L454.7 948.98 L457.05 948.64 L459.4 948.2 L461.75 947.67 L464.1 947.07 L466.45 946.4 L468.8 945.69 L471.15 944.96 L473.5 944.19 L475.85 943.41 L478.2 942.63 L480.55 941.83 L482.9 941.04 L485.25 940.24 L487.6 939.45 L489.95 938.66 L492.3 937.87 L494.65 937.09 L497 936.32 L499.35 935.55 L501.7 934.79 L504.05 934.04 L506.4 933.3 L508.75 932.56 L511.1 931.83 L513.45 931.11 L515.8 930.39 L518.15 929.69 L520.5 928.99 L522.85 928.29 L525.2 927.61 L527.55 926.93 L529.9 926.25 L532.25 925.59 L534.6 924.93 L536.95 924.27 L539.3 923.63 L541.65 922.99 L544 922.35 L546.35 921.72 L548.7 921.1 L551.05 920.48 L553.4 919.86 L555.75 919.26 L558.1 918.65 L560.45 918.06 L562.8 917.46 L565.15 916.87 L567.5 916.29 L569.85 915.71 L572.2 915.14 L574.55 914.57 L576.9 914 L579.25 913.44 L581.6 912.88 L583.95 912.33 L586.3 911.78 L588.65 911.24 L591 910.7 L593.35 910.16 L595.7 909.62 L598.05 909.09 L600.4 908.57 L602.75 908.04 L605.1 907.52 L607.45 907.01 L609.8 906.49 L612.15 905.98 L614.5 905.48 L616.85 904.97 L619.2 904.47 L621.55 903.97 L623.9 903.48 L626.25 902.99 L628.6 902.5 L630.95 902.01 L633.3 901.53 L635.65 901.05 L638 900.57 L640.35 900.09 L642.7 899.62 L645.05 899.15 L647.4 898.68 L649.75 898.22 L652.1 897.75 L654.45 897.29 L656.8 896.83 L659.15 896.38 L661.5 895.92 L663.85 895.47 L666.2 895.02 L668.55 894.58 L670.9 894.13 L673.25 893.69 L675.6 893.25 L677.95 892.81 L680.3 892.37 L682.65 891.94 L685 891.51"/>
<path d="M215 1079.09 L217.35 1078.66 L219.7 1078.23 L222.05 1077.79 L224.4 1077.35 L226.75 1076.91 L229.1 1076.47 L231.45 1076.02 L233.8 1075.58 L236.15 1075.13 L238.5 1074.68 L240.85 1074.22 L243.2 1073.77 L245.55 1073.31 L247.9 1072.85 L250.25 1072.38 L252.6 1071.92 L254.95 1071.45 L257.3 1070.98 L259.65 1070.51 L262 1070.03 L264.35 1069.55 L266.7 1069.07 L269.05 1068.59 L271.4 1068.1 L273.75 1067.61 L276.1 1067.12 L278.45 1066.63 L280.8 1066.13 L283.15 1065.63 L285.5 1065.12 L287.85 1064.62 L290.2 1064.11 L292.55 1063.59 L294.9 1063.08 L297.25 1062.56 L299.6 1062.03 L301.95 1061.51 L304.3 1060.98 L306.65 1060.44 L309 1059.9 L311.35 1059.36 L313.7 1058.82 L316.05 1058.27 L318.4 1057.72 L320.75 1057.16 L323.1 1056.6 L325.45 1056.03 L327.8 1055.46 L330.15 1054.89 L332.5 1054.31 L334.85 1053.73 L337.2 1053.14 L339.55 1052.54 L341.9 1051.95 L344.25 1051.34 L346.6 1050.74 L348.95 1050.12 L351.3 1049.5 L353.65 1048.88 L356 1048.25 L358.35 1047.61 L360.7 1046.97 L363.05 1046.33 L365.4 1045.67 L367.75 1045.01 L370.1 1044.35 L372.45 1043.67 L374.8 1042.99 L377.15 1042.31 L379.5 1041.61 L381.85 1040.91 L384.2 1040.21 L386.55 1039.49 L388.9 1038.77 L391.25 1038.04 L393.6 1037.3 L395.95 1036.56 L398.3 1035.81 L400.65 1035.05 L403 1034.28 L405.35 1033.51 L407.7 1032.73 L410.05 1031.94 L412.4 1031.15 L414.75 1030.36 L417.1 1029.56 L419.45 1028.77 L421.8 1027.97 L424.15 1027.19 L426.5 1026.41 L428.85 1025.64 L431.2 1024.91 L433.55 1024.2 L435.9 1023.53 L438.25 1022.93 L440.6 1022.4 L442.95 1021.96 L445.3 1021.62 L447.65 1021.42 L450 1021.35 L452.35 1021.42 L454.7 1021.62 L457.05 1021.96 L459.4 1022.4 L461.75 1022.93 L464.1 1023.53 L466.45 1024.2 L468.8 1024.91 L471.15 1025.64 L473.5 1026.41 L475.85 1027.19 L478.2 1027.97 L480.55 1028.77 L482.9 1029.56 L485.25 1030.36 L487.6 1031.15 L489.95 1031.94 L492.3 1032.73 L494.65 1033.51 L497 1034.28 L499.35 1035.05 L501.7 1035.81 L504.05 1036.56 L506.4 1037.3 L508.75 1038.04 L511.1 1038.77 L513.45 1039.49 L515.8 1040.21 L518.15 1040.91 L520.5 1041.61 L522.85 1042.31 L525.2 1042.99 L527.55 1043.67 L529.9 1044.35 L532.25 1045.01 L534.6 1045.67 L536.95 1046.33 L539.3 1046.97 L541.65 1047.61 L544 1048.25 L546.35 1048.88 L548.7 1049.5 L551.05 1050.12 L553.4 1050.74 L555.75 1051.34 L558.1 1051.95 L560.45 1052.54 L562.8 1053.14 L565.15 1053.73 L567.5 1054.31 L569.85 1054.89 L572.2 1055.46 L574.55 1056.03 L576.9 1056.6 L579.25 1057.16 L581.6 1057.72 L583.95 1058.27 L586.3 1058.82 L588.65 1059.36 L591 1059.9 L593.35 1060.44 L595.7 1060.98 L598.05 1061.51 L600.4 1062.03 L602.75 1062.56 L605.1 1063.08 L607.45 1063.59 L609.8 1064.11 L612.15 1064.62 L614.5 1065.12 L616.85 1065.63 L619.2 1066.13 L621.55 1066.63 L623.9 1067.12 L626.25 1067.61 L628.6 1068.1 L630.95 1068.59 L633.3 1069.07 L635.65 1069.55 L638 1070.03 L640.35 1070.51 L642.7 1070.98 L645.05 1071.45 L647.4 1071.92 L649.75 1072.38 L652.1 1072.85 L654.45 1073.31 L656.8 1073.77 L659.15 1074.22 L661.5 1074.68 L663.85 1075.13 L666.2 1075.58 L668.55 1076.02 L670.9 1076.47 L673.25 1076.91 L675.6 1077.35 L677.95 1077.79 L680.3 1078.23 L682.65 1078.66 L685 1079.09"/>
<path d="M215 837.46 L217.35 838.07 L219.7 838.68 L222.05 839.3 L224.4 839.91 L226.75 840.53 L229.1 841.15 L231.45 841.78 L233.8 842.4 L236.15 843.03 L238.5 843.66 L240.85 844.3 L243.2 844.93 L245.55 845.57 L247.9 846.21 L250.25 846.86 L252.6 847.5 L254.95 848.15 L257.3 848.81 L259.65 849.46 L262 850.12 L264.35 850.78 L266.7 851.44 L269.05 852.11 L271.4 852.78 L273.75 853.45 L276.1 854.13 L278.45 854.81 L280.8 855.49 L283.15 856.17 L285.5 856.86 L287.85 857.55 L290.2 858.24 L292.55 858.94 L294.9 859.64 L297.25 860.34 L299.6 861.05 L301.95 861.76 L304.3 862.47 L306.65 863.19 L309 863.91 L311.35 864.63 L313.7 865.36 L316.05 866.08 L318.4 866.82 L320.75 867.55 L323.1 868.29 L325.45 869.03 L327.8 869.78 L330.15 870.53 L332.5 871.28 L334.85 872.04 L337.2 872.8 L339.55 873.56 L341.9 874.32 L344.25 875.09 L346.6 875.86 L348.95 876.64 L351.3 877.41 L353.65 878.19 L356 878.98 L358.35 879.76 L360.7 880.55 L363.05 881.34 L365.4 882.13 L367.75 882.92 L370.1 883.72 L372.45 884.51 L374.8 885.31 L377.15 886.1 L379.5 886.9 L381.85 887.7 L384.2 888.49 L386.55 889.28 L388.9 890.07 L391.25 890.86 L393.6 891.64 L395.95 892.42 L398.3 893.19 L400.65 893.96 L403 894.71 L405.35 895.46 L407.7 896.19 L410.05 896.91 L412.4 897.61 L414.75 898.29 L417.1 898.95 L419.45 899.59 L421.8 900.2 L424.15 900.78 L426.5 901.32 L428.85 901.83 L431.2 902.3 L433.55 902.73 L435.9 903.1 L438.25 903.43 L440.6 903.7 L442.95 903.91 L445.3 904.07 L447.65 904.16 L450 904.19 L452.35 904.16 L454.7 904.07 L457.05 903.91 L459.4 903.7 L461.75 903.43 L464.1 903.1 L466.45 902.73 L468.8 902.3 L471.15 901.83 L473.5 901.32 L475.85 900.78 L478.2 900.2 L480.55 899.59 L482.9 898.95 L485.25 898.29 L487.6 897.61 L489.95 896.91 L492.3 896.19 L494.65 895.46 L497 894.71 L499.35 893.96 L501.7 893.19 L504.05 892.42 L506.4 891.64 L508.75 890.86 L511.1 890.07 L513.45 889.28 L515.8 888.49 L518.15 887.7 L520.5 886.9 L522.85 886.1 L525.2 885.31 L527.55 884.51 L529.9 883.72 L532.25 882.92 L534.6 882.13 L536.95 881.34 L539.3 880.55 L541.65 879.76 L544 878.98 L546.35 878.19 L548.7 877.41 L551.05 876.64 L553.4 875.86 L555.75 875.09 L558.1 874.32 L560.45 873.56 L562.8 872.8 L565.15 872.04 L567.5 871.28 L569.85 870.53 L572.2 869.78 L574.55 869.03 L576.9 868.29 L579.25 867.55 L581.6 866.82 L583.95 866.08 L586.3 865.36 L588.65 864.63 L591 863.91 L593.35 863.19 L595.7 862.47 L598.05 861.76 L600.4 861.05 L602.75 860.34 L605.1 859.64 L607.45 858.94 L609.8 858.24 L612.15 857.55 L614.5 856.86 L616.85 856.17 L619.2 855.49 L621.55 854.81 L623.9 854.13 L626.25 853.45 L628.6 852.78 L630.95 852.11 L633.3 851.44 L635.65 850.78 L638 850.12 L640.35 849.46 L642.7 848.81 L645.05 848.15 L647.4 847.5 L649.75 846.86 L652.1 846.21 L654.45 845.57 L656.8 844.93 L659.15 844.3 L661.5 843.66 L663.85 843.03 L666.2 842.4 L668.55 841.78 L670.9 841.15 L673.25 840.53 L675.6 839.91 L677.95 839.3 L680.3 838.68 L682.65 838.07 L685 837.46"/>
<path d="M215 1133.14 L217.35 1132.53 L219.7 1131.92 L222.05 1131.3 L224.4 1130.69 L226.75 1130.07 L229.1 1129.45 L231.45 1128.82 L233.8 1128.2 L236.15 1127.57 L238.5 1126.94 L240.85 1126.3 L243.2 1125.67 L245.55 1125.03 L247.9 1124.39 L250.25 1123.74 L252.6 1123.1 L254.95 1122.45 L257.3 1121.79 L259.65 1121.14 L262 1120.48 L264.35 1119.82 L266.7 1119.16 L269.05 1118.49 L271.4 1117.82 L273.75 1117.15 L276.1 1116.47 L278.45 1115.79 L280.8 1115.11 L283.15 1114.43 L285.5 1113.74 L287.85 1113.05 L290.2 1112.36 L292.55 1111.66 L294.9 1110.96 L297.25 1110.26 L299.6 1109.55 L301.95 1108.84 L304.3 1108.13 L306.65 1107.41 L309 1106.69 L311.35 1105.97 L313.7 1105.24 L316.05 1104.52 L318.4 1103.78 L320.75 1103.05 L323.1 1102.31 L325.45 1101.57 L327.8 1100.82 L330.15 1100.07 L332.5 1099.32 L334.85 1098.56 L337.2 1097.8 L339.55 1097.04 L341.9 1096.28 L344.25 1095.51 L346.6 1094.74 L348.95 1093.96 L351.3 1093.19 L353.65 1092.41 L356 1091.62 L358.35 1090.84 L360.7 1090.05 L363.05 1089.26 L365.4 1088.47 L367.75 1087.68 L370.1 1086.88 L372.45 1086.09 L374.8 1085.29 L377.15 1084.5 L379.5 1083.7 L381.85 1082.9 L384.2 1082.11 L386.55 1081.32 L388.9 1080.53 L391.25 1079.74 L393.6 1078.96 L395.95 1078.18 L398.3 1077.41 L400.65 1076.64 L403 1075.89 L405.35 1075.14 L407.7 1074.41 L410.05 1073.69 L412.4 1072.99 L414.75 1072.31 L417.1 1071.65 L419.45 1071.01 L421.8 1070.4 L424.15 1069.82 L426.5 1069.28 L428.85 1068.77 L431.2 1068.3 L433.55 1067.87 L435.9 1067.5 L438.25 1067.17 L440.6 1066.9 L442.95 1066.69 L445.3 1066.53 L447.65 1066.44 L450 1066.41 L452.35 1066.44 L454.7 1066.53 L457.05 1066.69 L459.4 1066.9 L461.75 1067.17 L464.1 1067.5 L466.45 1067.87 L468.8 1068.3 L471.15 1068.77 L473.5 1069.28 L475.85 1069.82 L478.2 1070.4 L480.55 1071.01 L482.9 1071.65 L485.25 1072.31 L487.6 1072.99 L489.95 1073.69 L492.3 1074.41 L494.65 1075.14 L497 1075.89 L499.35 1076.64 L501.7 1077.41 L504.05 1078.18 L506.4 1078.96 L508.75 1079.74 L511.1 1080.53 L513.45 1081.32 L515.8 1082.11 L518.15 1082.9 L520.5 1083.7 L522.85 1084.5 L525.2 1085.29 L527.55 1086.09 L529.9 1086.88 L532.25 1087.68 L534.6 1088.47 L536.95 1089.26 L539.3 1090.05 L541.65 1090.84 L544 1091.62 L546.35 1092.41 L548.7 1093.19 L551.05 1093.96 L553.4 1094.74 L555.75 1095.51 L558.1 1096.28 L560.45 1097.04 L562.8 1097.8 L565.15 1098.56 L567.5 1099.32 L569.85 1100.07 L572.2 1100.82 L574.55 1101.57 L576.9 1102.31 L579.25 1103.05 L581.6 1103.78 L583.95 1104.52 L586.3 1105.24 L588.65 1105.97 L591 1106.69 L593.35 1107.41 L595.7 1108.13 L598.05 1108.84 L600.4 1109.55 L602.75 1110.26 L605.1 1110.96 L607.45 1111.66 L609.8 1112.36 L612.15 1113.05 L614.5 1113.74 L616.85 1114.43 L619.2 1115.11 L621.55 1115.79 L623.9 1116.47 L626.25 1117.15 L628.6 1117.82 L630.95 1118.49 L633.3 1119.16 L635.65 1119.82 L638 1120.48 L640.35 1121.14 L642.7 1121.79 L645.05 1122.45 L647.4 1123.1 L649.75 1123.74 L652.1 1124.39 L654.45 1125.03 L656.8 1125.67 L659.15 1126.3 L661.5 1126.94 L663.85 1127.57 L666.2 1128.2 L668.55 1128.82 L670.9 1129.45 L673.25 1130.07 L675.6 1130.69 L677.95 1131.3 L680.3 1131.92 L682.65 1132.53 L685 1133.14"/>
<path d="M215 774.34 L217.35 775.07 L219.7 775.81 L222.05 776.55 L224.4 777.29 L226.75 778.03 L229.1 778.77 L231.45 779.52 L233.8 780.26 L236.15 781.01 L238.5 781.76 L240.85 782.52 L243.2 783.27 L245.55 784.03 L247.9 784.79 L250.25 785.55 L252.6 786.31 L254.95 787.07 L257.3 787.84 L259.65 788.61 L262 789.37 L264.35 790.14 L266.7 790.92 L269.05 791.69 L271.4 792.47 L273.75 793.24 L276.1 794.02 L278.45 794.8 L280.8 795.58 L283.15 796.37 L285.5 797.15 L287.85 797.94 L290.2 798.72 L292.55 799.51 L294.9 800.3 L297.25 801.09 L299.6 801.88 L301.95 802.68 L304.3 803.47 L306.65 804.27 L309 805.06 L311.35 805.86 L313.7 806.65 L316.05 807.45 L318.4 808.24 L320.75 809.04 L323.1 809.84 L325.45 810.63 L327.8 811.43 L330.15 812.22 L332.5 813.02 L334.85 813.81 L337.2 814.61 L339.55 815.4 L341.9 816.19 L344.25 816.97 L346.6 817.76 L348.95 818.54 L351.3 819.32 L353.65 820.1 L356 820.87 L358.35 821.64 L360.7 822.41 L363.05 823.17 L365.4 823.92 L367.75 824.67 L370.1 825.41 L372.45 826.15 L374.8 826.88 L377.15 827.6 L379.5 828.31 L381.85 829.01 L384.2 829.71 L386.55 830.39 L388.9 831.06 L391.25 831.72 L393.6 832.36 L395.95 832.99 L398.3 833.61 L400.65 834.2 L403 834.79 L405.35 835.35 L407.7 835.89 L410.05 836.41 L412.4 836.91 L414.75 837.39 L417.1 837.85 L419.45 838.27 L421.8 838.68 L424.15 839.05 L426.5 839.4 L428.85 839.72 L431.2 840 L433.55 840.26 L435.9 840.48 L438.25 840.67 L440.6 840.83 L442.95 840.95 L445.3 841.04 L447.65 841.09 L450 841.11 L452.35 841.09 L454.7 841.04 L457.05 840.95 L459.4 840.83 L461.75 840.67 L464.1 840.48 L466.45 840.26 L468.8 840 L471.15 839.72 L473.5 839.4 L475.85 839.05 L478.2 838.68 L480.55 838.27 L482.9 837.85 L485.25 837.39 L487.6 836.91 L489.95 836.41 L492.3 835.89 L494.65 835.35 L497 834.79 L499.35 834.2 L501.7 833.61 L504.05 832.99 L506.4 832.36 L508.75 831.72 L511.1 831.06 L513.45 830.39 L515.8 829.71 L518.15 829.01 L520.5 828.31 L522.85 827.6 L525.2 826.88 L527.55 826.15 L529.9 825.41 L532.25 824.67 L534.6 823.92 L536.95 823.17 L539.3 822.41 L541.65 821.64 L544 820.87 L546.35 820.1 L548.7 819.32 L551.05 818.54 L553.4 817.76 L555.75 816.97 L558.1 816.19 L560.45 815.4 L562.8 814.61 L565.15 813.81 L567.5 813.02 L569.85 812.22 L572.2 811.43 L574.55 810.63 L576.9 809.84 L579.25 809.04 L581.6 808.24 L583.95 807.45 L586.3 806.65 L588.65 805.86 L591 805.06 L593.35 804.27 L595.7 803.47 L598.05 802.68 L600.4 801.88 L602.75 801.09 L605.1 800.3 L607.45 799.51 L609.8 798.72 L612.15 797.94 L614.5 797.15 L616.85 796.37 L619.2 795.58 L621.55 794.8 L623.9 794.02 L626.25 793.24 L628.6 792.47 L630.95 791.69 L633.3 790.92 L635.65 790.14 L638 789.37 L640.35 788.61 L642.7 787.84 L645.05 787.07 L647.4 786.31 L649.75 785.55 L652.1 784.79 L654.45 784.03 L656.8 783.27 L659.15 782.52 L661.5 781.76 L663.85 781.01 L666.2 780.26 L668.55 779.52 L670.9 778.77 L673.25 778.03 L675.6 777.29 L677.95 776.55 L680.3 775.81 L682.65 775.07 L685 774.34"/>
<path d="M215 1196.26 L217.35 1195.53 L219.7 1194.79 L222.05 1194.05 L224.4 1193.31 L226.75 1192.57 L229.1 1191.83 L231.45 1191.08 L233.8 1190.34 L236.15 1189.59 L238.5 1188.84 L240.85 1188.08 L243.2 1187.33 L245.55 1186.57 L247.9 1185.81 L250.25 1185.05 L252.6 1184.29 L254.95 1183.53 L257.3 1182.76 L259.65 1181.99 L262 1181.23 L264.35 1180.46 L266.7 1179.68 L269.05 1178.91 L271.4 1178.13 L273.75 1177.36 L276.1 1176.58 L278.45 1175.8 L280.8 1175.02 L283.15 1174.23 L285.5 1173.45 L287.85 1172.66 L290.2 1171.88 L292.55 1171.09 L294.9 1170.3 L297.25 1169.51 L299.6 1168.72 L301.95 1167.92 L304.3 1167.13 L306.65 1166.33 L309 1165.54 L311.35 1164.74 L313.7 1163.95 L316.05 1163.15 L318.4 1162.36 L320.75 1161.56 L323.1 1160.76 L325.45 1159.97 L327.8 1159.17 L330.15 1158.38 L332.5 1157.58 L334.85 1156.79 L337.2 1155.99 L339.55 1155.2 L341.9 1154.41 L344.25 1153.63 L346.6 1152.84 L348.95 1152.06 L351.3 1151.28 L353.65 1150.5 L356 1149.73 L358.35 1148.96 L360.7 1148.19 L363.05 1147.43 L365.4 1146.68 L367.75 1145.93 L370.1 1145.19 L372.45 1144.45 L374.8 1143.72 L377.15 1143 L379.5 1142.29 L381.85 1141.59 L384.2 1140.89 L386.55 1140.21 L388.9 1139.54 L391.25 1138.88 L393.6 1138.24 L395.95 1137.61 L398.3 1136.99 L400.65 1136.4 L403 1135.81 L405.35 1135.25 L407.7 1134.71 L410.05 1134.19 L412.4 1133.69 L414.75 1133.21 L417.1 1132.75 L419.45 1132.33 L421.8 1131.92 L424.15 1131.55 L426.5 1131.2 L428.85 1130.88 L431.2 1130.6 L433.55 1130.34 L435.9 1130.12 L438.25 1129.93 L440.6 1129.77 L442.95 1129.65 L445.3 1129.56 L447.65 1129.51 L450 1129.49 L452.35 1129.51 L454.7 1129.56 L457.05 1129.65 L459.4 1129.77 L461.75 1129.93 L464.1 1130.12 L466.45 1130.34 L468.8 1130.6 L471.15 1130.88 L473.5 1131.2 L475.85 1131.55 L478.2 1131.92 L480.55 1132.33 L482.9 1132.75 L485.25 1133.21 L487.6 1133.69 L489.95 1134.19 L492.3 1134.71 L494.65 1135.25 L497 1135.81 L499.35 1136.4 L501.7 1136.99 L504.05 1137.61 L506.4 1138.24 L508.75 1138.88 L511.1 1139.54 L513.45 1140.21 L515.8 1140.89 L518.15 1141.59 L520.5 1142.29 L522.85 1143 L525.2 1143.72 L527.55 1144.45 L529.9 1145.19 L532.25 1145.93 L534.6 1146.68 L536.95 1147.43 L539.3 1148.19 L541.65 1148.96 L544 1149.73 L546.35 1150.5 L548.7 1151.28 L551.05 1152.06 L553.4 1152.84 L555.75 1153.63 L558.1 1154.41 L560.45 1155.2 L562.8 1155.99 L565.15 1156.79 L567.5 1157.58 L569.85 1158.38 L572.2 1159.17 L574.55 1159.97 L576.9 1160.76 L579.25 1161.56 L581.6 1162.36 L583.95 1163.15 L586.3 1163.95 L588.65 1164.74 L591 1165.54 L593.35 1166.33 L595.7 1167.13 L598.05 1167.92 L600.4 1168.72 L602.75 1169.51 L605.1 1170.3 L607.45 1171.09 L609.8 1171.88 L612.15 1172.66 L614.5 1173.45 L616.85 1174.23 L619.2 1175.02 L621.55 1175.8 L623.9 1176.58 L626.25 1177.36 L628.6 1178.13 L630.95 1178.91 L633.3 1179.68 L635.65 1180.46 L638 1181.23 L640.35 1181.99 L642.7 1182.76 L645.05 1183.53 L647.4 1184.29 L649.75 1185.05 L652.1 1185.81 L654.45 1186.57 L656.8 1187.33 L659.15 1188.08 L661.5 1188.84 L663.85 1189.59 L666.2 1190.34 L668.55 1191.08 L670.9 1191.83 L673.25 1192.57 L675.6 1193.31 L677.95 1194.05 L680.3 1194.79 L682.65 1195.53 L685 1196.26"/>
</g>
<text x="637.97" y="791.44" font-size="26.3" text-anchor="start" fill="#000" font-family="'Liberation Sans', sans-serif" >0.8</text>
<text x="552.47" y="875.94" font-size="26.3" text-anchor="start" fill="#000" font-family="'Liberation Sans', sans-serif" >0.6</text>
<text x="480.97" y="941.64" font-size="26.3" text-anchor="start" fill="#000" font-family="'Liberation Sans', sans-serif" >0.4</text>
<text x="448.47" y="976.84" font-size="26.3" text-anchor="start" fill="#000" font-family="'Liberation Sans', sans-serif" >0.2</text>
<text x="414.77" y="1006.44" font-size="26.3" text-anchor="start" fill="#000" font-family="'Liberation Sans', sans-serif" >0.2</text>
<text x="382.07" y="1041.04" font-size="26.3" text-anchor="start" fill="#000" font-family="'Liberation Sans', sans-serif" >0.4</text>
<text x="310.47" y="1107.24" font-size="26.3" text-anchor="start" fill="#000" font-family="'Liberation Sans', sans-serif" >0.6</text>
<text x="225.07" y="1191.24" font-size="26.3" text-anchor="start" fill="#000" font-family="'Liberation Sans', sans-serif" >0.8</text>
<rect x="215" y="760" width="470" height="450.6" fill="none" stroke="#000" stroke-width="2"/>
<line x1="206.5" y1="1210.6" x2="215" y2="1210.6" stroke="#000" stroke-width="2" />
<line x1="215" y1="1210.6" x2="215" y2="1219.1" stroke="#000" stroke-width="2" />
<line x1="210.5" y1="1154.27" x2="215" y2="1154.27" stroke="#000" stroke-width="2" />
<line x1="273.75" y1="1210.6" x2="273.75" y2="1215.1" stroke="#000" stroke-width="2" />
<line x1="206.5" y1="1097.95" x2="215" y2="1097.95" stroke="#000" stroke-width="2" />
<line x1="332.5" y1="1210.6" x2="332.5" y2="1219.1" stroke="#000" stroke-width="2" />
<line x1="210.5" y1="1041.62" x2="215" y2="1041.62" stroke="#000" stroke-width="2" />
<line x1="391.25" y1="1210.6" x2="391.25" y2="1215.1" stroke="#000" stroke-width="2" />
<line x1="206.5" y1="985.3" x2="215" y2="985.3" stroke="#000" stroke-width="2" />
<line x1="450" y1="1210.6" x2="450" y2="1219.1" stroke="#000" stroke-width="2" />
<line x1="210.5" y1="928.97" x2="215" y2="928.97" stroke="#000" stroke-width="2" />
<line x1="508.75" y1="1210.6" x2="508.75" y2="1215.1" stroke="#000" stroke-width="2" />
<line x1="206.5" y1="872.65" x2="215" y2="872.65" stroke="#000" stroke-width="2" />
<line x1="567.5" y1="1210.6" x2="567.5" y2="1219.1" stroke="#000" stroke-width="2" />
<line x1="210.5" y1="816.33" x2="215" y2="816.33" stroke="#000" stroke-width="2" />
<line x1="626.25" y1="1210.6" x2="626.25" y2="1215.1" stroke="#000" stroke-width="2" />
<line x1="206.5" y1="760" x2="215" y2="760" stroke="#000" stroke-width="2" />
<line x1="685" y1="1210.6" x2="685" y2="1219.1" stroke="#000" stroke-width="2" />
<text x="199.8" y="1219.3" font-size="30.0" text-anchor="end" fill="#000" font-family="'Liberation Sans', sans-serif" >-1.0</text>
<text x="215" y="1248.6" font-size="30.0" text-anchor="middle" fill="#000" font-family="'Liberation Sans', sans-serif" >-1.0</text>
<text x="199.8" y="1106.65" font-size="30.0" text-anchor="end" fill="#000" font-family="'Liberation Sans', sans-serif" >-0.5</text>
<text x="332.5" y="1248.6" font-size="30.0" text-anchor="middle" fill="#000" font-family="'Liberation Sans', sans-serif" >-0.5</text>
<text x="199.8" y="994" font-size="30.0" text-anchor="end" fill="#000" font-family="'Liberation Sans', sans-serif" >0.0</text>
<text x="450" y="1248.6" font-size="30.0" text-anchor="middle" fill="#000" font-family="'Liberation Sans', sans-serif" >0.0</text>
<text x="199.8" y="881.35" font-size="30.0" text-anchor="end" fill="#000" font-family="'Liberation Sans', sans-serif" >0.5</text>
<text x="567.5" y="1248.6" font-size="30.0" text-anchor="middle" fill="#000" font-family="'Liberation Sans', sans-serif" >0.5</text>
<text x="199.8" y="768.7" font-size="30.0" text-anchor="end" fill="#000" font-family="'Liberation Sans', sans-serif" >1.0</text>
<text x="685" y="1248.6" font-size="30.0" text-anchor="middle" fill="#000" font-family="'Liberation Sans', sans-serif" >1.0</text>
<text x="0" y="46.2" font-size="60" text-anchor="start" fill="#000" font-family="'Liberation Sans', sans-serif" transform="translate(0.3,724.6)">b</text>
<text x="385.6" y="1305.6" font-size="37" font-family="'Liberation Sans', sans-serif" ><tspan font-style="italic">q</tspan><tspan font-style="italic" font-size="25.9" dy="8.14">x</tspan><tspan dy="-8.14" dx="-2.52"> (Å</tspan><tspan font-size="22.94" dy="-13.69">-1</tspan><tspan dy="13.69" dx="6.29">)</tspan></text>
<text x="0" y="0" font-size="37" font-family="'Liberation Sans', sans-serif" transform="translate(127.6,1054.5) rotate(-90)"><tspan font-style="italic">q</tspan><tspan font-style="italic" font-size="25.9" dy="8.14">y</tspan><tspan dy="-8.14" dx="-2.52"> (Å</tspan><tspan font-size="22.94" dy="-13.69">-1</tspan><tspan dy="13.69" dx="6.29">)</tspan></text>
<rect x="788.2" y="768.4" width="37.9" height="438.6" fill="url(#rb)"/>
<text x="832" y="777.8" font-size="37" text-anchor="start" fill="#000" font-family="'Liberation Sans', sans-serif" >3</text>
<text x="839.2" y="1220.6" font-size="37" text-anchor="start" fill="#000" font-family="'Liberation Sans', sans-serif" >0</text>
<text x="0" y="0" font-size="41.6" text-anchor="middle" fill="#000" font-family="'Liberation Sans', sans-serif" transform="translate(772.2,997) rotate(-90)">ω (eV)</text>
<path d="M996 910.83 L1000.46 910.43 L1004.93 910.03 L1009.39 909.64 L1013.85 909.25 L1018.31 908.87 L1022.78 908.5 L1027.24 908.13 L1031.7 907.77 L1036.17 907.42 L1040.63 907.07 L1045.09 906.73 L1049.56 906.39 L1054.02 906.06 L1058.48 905.74 L1062.94 905.42 L1067.41 905.11 L1071.87 904.81 L1076.33 904.51 L1080.8 904.22 L1085.26 903.93 L1089.72 903.65 L1094.19 903.38 L1098.65 903.11 L1103.11 902.85 L1107.58 902.6 L1112.04 902.35 L1116.5 902.11 L1120.96 901.87 L1125.43 901.64 L1129.89 901.42 L1134.35 901.2 L1138.82 900.99 L1143.28 900.79 L1147.74 900.59 L1152.2 900.4 L1156.67 900.22 L1161.13 900.04 L1165.59 899.86 L1170.06 899.7 L1174.52 899.54 L1178.98 899.38 L1183.45 899.24 L1187.91 899.1 L1192.37 898.96 L1196.84 898.83 L1201.3 898.71 L1205.76 898.59 L1210.22 898.48 L1214.69 898.38 L1219.15 898.28 L1223.61 898.19 L1228.08 898.11 L1232.54 898.03 L1237 897.96 L1241.46 897.89 L1245.93 897.83 L1250.39 897.78 L1254.85 897.73 L1259.32 897.69 L1263.78 897.65 L1268.24 897.63 L1272.71 897.6 L1277.17 897.59 L1281.63 897.58 L1286.1 897.58 L1290.56 897.58 L1295.02 897.59 L1299.48 897.6 L1303.95 897.63 L1308.41 897.65 L1312.87 897.69 L1317.34 897.73 L1321.8 897.78 L1326.26 897.83 L1330.72 897.89 L1335.19 897.96 L1339.65 898.03 L1344.11 898.11 L1348.58 898.19 L1353.04 898.28 L1357.5 898.38 L1361.97 898.48 L1366.43 898.59 L1370.89 898.71 L1375.36 898.83 L1379.82 898.96 L1384.28 899.1 L1388.74 899.24 L1393.21 899.38 L1397.67 899.54 L1402.13 899.7 L1406.6 899.86 L1411.06 900.04 L1415.52 900.22 L1419.98 900.4 L1424.45 900.59 L1428.91 900.79 L1433.37 900.99 L1437.84 901.2 L1442.3 901.42" fill="none" stroke="#ee3a43" stroke-width="7.4"/>
<path d="M996 1184.39 L1000.46 1184.8 L1004.93 1185.21 L1009.39 1185.62 L1013.85 1186.02 L1018.31 1186.41 L1022.78 1186.81 L1027.24 1187.2 L1031.7 1187.58 L1036.17 1187.96 L1040.63 1188.34 L1045.09 1188.71 L1049.56 1189.07 L1054.02 1189.44 L1058.48 1189.8 L1062.94 1190.15 L1067.41 1190.5 L1071.87 1190.85 L1076.33 1191.19 L1080.8 1191.53 L1085.26 1191.86 L1089.72 1192.19 L1094.19 1192.51 L1098.65 1192.83 L1103.11 1193.15 L1107.58 1193.46 L1112.04 1193.77 L1116.5 1194.07 L1120.96 1194.37 L1125.43 1194.67 L1129.89 1194.96 L1134.35 1195.24 L1138.82 1195.53 L1143.28 1195.8 L1147.74 1196.08 L1152.2 1196.35 L1156.67 1196.61 L1161.13 1196.87 L1165.59 1197.13 L1170.06 1197.38 L1174.52 1197.63 L1178.98 1197.87 L1183.45 1198.11 L1187.91 1198.35 L1192.37 1198.58 L1196.84 1198.81 L1201.3 1199.03 L1205.76 1199.25 L1210.22 1199.46 L1214.69 1199.67 L1219.15 1199.88 L1223.61 1200.08 L1228.08 1200.28 L1232.54 1200.47 L1237 1200.66 L1241.46 1200.84 L1245.93 1201.02 L1250.39 1201.2 L1254.85 1201.37 L1259.32 1201.54 L1263.78 1201.7 L1268.24 1201.86 L1272.71 1202.01 L1277.17 1202.16 L1281.63 1202.31 L1286.1 1202.45 L1290.56 1202.59 L1295.02 1202.72 L1299.48 1202.85 L1303.95 1202.98 L1308.41 1203.1 L1312.87 1203.21 L1317.34 1203.33 L1321.8 1203.43 L1326.26 1203.54 L1330.72 1203.64 L1335.19 1203.73 L1339.65 1203.82 L1344.11 1203.91 L1348.58 1203.99 L1353.04 1204.07 L1357.5 1204.14 L1361.97 1204.21 L1366.43 1204.28 L1370.89 1204.34 L1375.36 1204.39 L1379.82 1204.45 L1384.28 1204.5 L1388.74 1204.54 L1393.21 1204.58 L1397.67 1204.61 L1402.13 1204.65 L1406.6 1204.67 L1411.06 1204.7 L1415.52 1204.71 L1419.98 1204.73 L1424.45 1204.74 L1428.91 1204.74 L1433.37 1204.75 L1437.84 1204.74 L1442.3 1204.74" fill="none" stroke="#474747" stroke-width="7.4"/>
<rect x="1443.2" y="880" width="8" height="340" fill="#fff"/>
<rect x="987" y="880" width="8.1" height="340" fill="#fff"/>
<line x1="996" y1="770.9" x2="1442.3" y2="770.9" stroke="#333" stroke-width="1.8" />
<line x1="996" y1="1218.4" x2="1442.3" y2="1218.4" stroke="#333" stroke-width="1.8" />
<line x1="996" y1="770" x2="996" y2="1051.9" stroke="#333" stroke-width="1.8" />
<line x1="996" y1="1062.8" x2="996" y2="1219.3" stroke="#333" stroke-width="1.8" />
<line x1="1442.3" y1="770" x2="1442.3" y2="1051.9" stroke="#333" stroke-width="1.8" />
<line x1="1442.3" y1="1062.8" x2="1442.3" y2="1219.3" stroke="#333" stroke-width="1.8" />
<line x1="989.6" y1="1059.6" x2="1002" y2="1047.8" stroke="#333" stroke-width="1.8" />
<line x1="989.6" y1="1067.3" x2="1002" y2="1055.6" stroke="#333" stroke-width="1.8" />
<line x1="1435.9" y1="1059.6" x2="1448.3" y2="1047.8" stroke="#333" stroke-width="1.8" />
<line x1="1435.9" y1="1067.3" x2="1448.3" y2="1055.6" stroke="#333" stroke-width="1.8" />
<line x1="990" y1="1021.9" x2="996" y2="1021.9" stroke="#333" stroke-width="1.6" />
<line x1="1436.3" y1="1021.9" x2="1442.3" y2="1021.9" stroke="#333" stroke-width="1.6" />
<line x1="992.5" y1="959.15" x2="996" y2="959.15" stroke="#333" stroke-width="1.6" />
<line x1="1438.8" y1="959.15" x2="1442.3" y2="959.15" stroke="#333" stroke-width="1.6" />
<line x1="990" y1="896.4" x2="996" y2="896.4" stroke="#333" stroke-width="1.6" />
<line x1="1436.3" y1="896.4" x2="1442.3" y2="896.4" stroke="#333" stroke-width="1.6" />
<line x1="992.5" y1="833.65" x2="996" y2="833.65" stroke="#333" stroke-width="1.6" />
<line x1="1438.8" y1="833.65" x2="1442.3" y2="833.65" stroke="#333" stroke-width="1.6" />
<line x1="990" y1="770.9" x2="996" y2="770.9" stroke="#333" stroke-width="1.6" />
<line x1="1436.3" y1="770.9" x2="1442.3" y2="770.9" stroke="#333" stroke-width="1.6" />
<line x1="990" y1="1218.4" x2="996" y2="1218.4" stroke="#333" stroke-width="1.6" />
<line x1="1436.3" y1="1218.4" x2="1442.3" y2="1218.4" stroke="#333" stroke-width="1.6" />
<line x1="992.5" y1="1155.4" x2="996" y2="1155.4" stroke="#333" stroke-width="1.6" />
<line x1="1438.8" y1="1155.4" x2="1442.3" y2="1155.4" stroke="#333" stroke-width="1.6" />
<line x1="990" y1="1092.4" x2="996" y2="1092.4" stroke="#333" stroke-width="1.6" />
<line x1="1436.3" y1="1092.4" x2="1442.3" y2="1092.4" stroke="#333" stroke-width="1.6" />
<line x1="996" y1="1218.4" x2="996" y2="1223.9" stroke="#333" stroke-width="1.6" />
<line x1="996" y1="770.9" x2="996" y2="776.4" stroke="#333" stroke-width="1.6" />
<line x1="1051.79" y1="1218.4" x2="1051.79" y2="1221.4" stroke="#333" stroke-width="1.6" />
<line x1="1051.79" y1="770.9" x2="1051.79" y2="773.9" stroke="#333" stroke-width="1.6" />
<line x1="1107.58" y1="1218.4" x2="1107.58" y2="1223.9" stroke="#333" stroke-width="1.6" />
<line x1="1107.58" y1="770.9" x2="1107.58" y2="776.4" stroke="#333" stroke-width="1.6" />
<line x1="1163.36" y1="1218.4" x2="1163.36" y2="1221.4" stroke="#333" stroke-width="1.6" />
<line x1="1163.36" y1="770.9" x2="1163.36" y2="773.9" stroke="#333" stroke-width="1.6" />
<line x1="1219.15" y1="1218.4" x2="1219.15" y2="1223.9" stroke="#333" stroke-width="1.6" />
<line x1="1219.15" y1="770.9" x2="1219.15" y2="776.4" stroke="#333" stroke-width="1.6" />
<line x1="1274.94" y1="1218.4" x2="1274.94" y2="1221.4" stroke="#333" stroke-width="1.6" />
<line x1="1274.94" y1="770.9" x2="1274.94" y2="773.9" stroke="#333" stroke-width="1.6" />
<line x1="1330.72" y1="1218.4" x2="1330.72" y2="1223.9" stroke="#333" stroke-width="1.6" />
<line x1="1330.72" y1="770.9" x2="1330.72" y2="776.4" stroke="#333" stroke-width="1.6" />
<line x1="1386.51" y1="1218.4" x2="1386.51" y2="1221.4" stroke="#333" stroke-width="1.6" />
<line x1="1386.51" y1="770.9" x2="1386.51" y2="773.9" stroke="#333" stroke-width="1.6" />
<line x1="1442.3" y1="1218.4" x2="1442.3" y2="1223.9" stroke="#333" stroke-width="1.6" />
<line x1="1442.3" y1="770.9" x2="1442.3" y2="776.4" stroke="#333" stroke-width="1.6" />
<text x="984.6" y="1030.3" font-size="28.8" text-anchor="end" fill="#000" font-family="'Liberation Sans', sans-serif" >10</text>
<text x="984.6" y="904.8" font-size="28.8" text-anchor="end" fill="#000" font-family="'Liberation Sans', sans-serif" >12</text>
<text x="984.6" y="779.3" font-size="28.8" text-anchor="end" fill="#000" font-family="'Liberation Sans', sans-serif" >14</text>
<text x="984.6" y="1226.8" font-size="28.8" text-anchor="end" fill="#000" font-family="'Liberation Sans', sans-serif" >0</text>
<text x="984.6" y="1100.8" font-size="28.8" text-anchor="end" fill="#000" font-family="'Liberation Sans', sans-serif" >2</text>
<text x="996" y="1251.3" font-size="28.8" text-anchor="middle" fill="#000" font-family="'Liberation Sans', sans-serif" >-0.2</text>
<text x="1107.58" y="1251.3" font-size="28.8" text-anchor="middle" fill="#000" font-family="'Liberation Sans', sans-serif" >-0.1</text>
<text x="1219.15" y="1251.3" font-size="28.8" text-anchor="middle" fill="#000" font-family="'Liberation Sans', sans-serif" >0.0</text>
<text x="1330.72" y="1251.3" font-size="28.8" text-anchor="middle" fill="#000" font-family="'Liberation Sans', sans-serif" >0.1</text>
<text x="1442.3" y="1251.3" font-size="28.8" text-anchor="middle" fill="#000" font-family="'Liberation Sans', sans-serif" >0.2</text>
<text x="1148.7" y="1303.5" font-size="37.5" font-family="'Liberation Sans', sans-serif">E - E<tspan font-size="24.9" dy="9">F</tspan><tspan dy="-9"> (eV)</tspan></text>
<text transform="translate(928.0,1074.3) rotate(-90)" font-size="37.1" font-family="'Liberation Sans', sans-serif">α (eVÅ<tspan font-size="24.5" dy="-13.5">1/2</tspan><tspan dy="13.5">)</tspan></text>
<text x="906" y="767.5" font-size="60" text-anchor="start" fill="#000" font-family="'Liberation Sans', sans-serif" font-weight="bold">c</text>
<text transform="translate(1133.8,858.5) scale(1.27,1)" font-size="37.1" font-style="italic" font-family="'Liberation Serif', serif">α</text>
<text x="1162.5" y="869.7" font-size="24.4" font-style="italic" font-family="'Liberation Serif', serif">y</text>
<text transform="translate(1133.8,1147.8) scale(1.27,1)" font-size="37.1" font-style="italic" font-family="'Liberation Serif', serif">α</text>
<text x="1160.8" y="1159.4" font-size="25.0" font-style="italic" font-family="'Liberation Serif', serif">x</text>
<text x="1234.97" y="883.4" font-size="38.2" text-anchor="start" fill="#000" font-family="'Liberation Sans', sans-serif" >Γ</text>
<path d="M1257.2 874.5 L1290.5 874.5" stroke="#000" stroke-width="2.0" fill="none"/>
<path d="M1283.8 868.7 Q1287.65 872.85 1290.6 874.5 Q1287.65 876.15 1283.8 880.3" stroke="#000" stroke-width="2" stroke-linecap="round" stroke-linejoin="round" fill="none"/>
<text x="1293.26" y="883.4" font-size="38.2" text-anchor="start" fill="#000" font-family="'Liberation Sans', sans-serif" >Y</text>
<text x="1234.97" y="1185.3" font-size="38.2" text-anchor="start" fill="#000" font-family="'Liberation Sans', sans-serif" >Γ</text>
<path d="M1257.2 1176 L1290.5 1176" stroke="#000" stroke-width="2.0" fill="none"/>
<path d="M1283.8 1170.2 Q1287.65 1174.35 1290.6 1176 Q1287.65 1177.65 1283.8 1181.8" stroke="#000" stroke-width="2" stroke-linecap="round" stroke-linejoin="round" fill="none"/>
<text x="1293.24" y="1185.3" font-size="38.2" text-anchor="start" fill="#000" font-family="'Liberation Sans', sans-serif" >X</text>
</svg>
<script>
(function(){
function cmap(t, o){
  var r,g,b;
  if(t<0){ r=0; g=0; b=255; }
  else if(t<0.25){ r=0; g=t*4*255; b=255; }
  else if(t<0.5){ r=0; g=255; b=(0.5-t)*4*255; }
  else if(t<0.75){ r=(t-0.5)*4*255; g=255; b=0; }
  else if(t<1){ r=255; g=(1-t)*4*255; b=0; }
  else { r=255; g=0; b=0; }
  o[0]=r; o[1]=g; o[2]=b;
}
function draw(id, x0, y0, fn, ss){
  var c=document.getElementById(id); if(!c||!c.getContext) return;
  var w=c.width, h=c.height, ctx=c.getContext('2d');
  var im=ctx.createImageData(w,h), d=im.data, o=[0,0,0];
  ss = ss||1;
  for(var j=0;j<h;j++){
    for(var i=0;i<w;i++){
      var R=0,G=0,Bc=0;
      for(var sj=0;sj<ss;sj++){
        var py=y0+j+(sj+0.5)/ss;
        for(var si=0;si<ss;si++){
          var px=x0+i+(si+0.5)/ss;
          cmap(fn(px,py), o); R+=o[0]; G+=o[1]; Bc+=o[2];
        }
      }
      var n=ss*ss, k=(j*w+i)*4;
      d[k]=R/n; d[k+1]=G/n; d[k+2]=Bc/n; d[k+3]=255;
    }
  }
  ctx.putImageData(im,0,0);
}
function lor(x){ return 1/(1+x*x); }
function gau(x){ return Math.exp(-x*x); }
function sstep(x){ if(x<=0) return 0; if(x>=1) return 1; return x*x*(3-2*x); }

// ---- X <- Gamma low-energy band (shared by A1 and middle of A2)
var BQ=[0,0.002,0.0084,0.0177,0.0309,0.0507,0.0641,0.0902,0.1];
var BW=[0,0.0105,0.0242,0.0317,0.0409,0.0515,0.0560,0.0591,0.0597];
function bandX(q, w, scaleW){
  var wb = interp(BQ,BW,q);
  var A = 1.55*(1-Math.exp(-q/0.0085)) - 120*Math.max(0,q-0.045)*Math.max(0,q-0.045);
  var gd = 0.004 + 0.19*wb*Math.sqrt(q/0.09);
  var gu = 0.92*gd;
  var d = w-wb;
  var g = d>0?gu:gd;
  if(scaleW) g = Math.sqrt(g*g + scaleW*scaleW);
  return A*lor(d/g);
}
// A1: q = 0.09*(492-px)/273 ; w = 0.1*(545-py)/527.4
function fA1(px,py){
  var q = 0.09*(492-px)/273, w = 0.1*(545-py)/527.4;
  var v = bandX(q,w,0) - 0.06 + 0.25*(q/0.09)*(1-w/0.1)*(1-w/0.1);
  return v/5;
}
// middle of A2
function fA2m(px,py){
  var q = 0.09*(952-px)/353.4, w = 3*(546.4-py)/527.65;
  var v = bandX(q,w,0.004) - 0.02;
  // faint upper glow
  v += 0.1*sstep((w-2.5)/0.3)*(1-0.5*sstep((w-2.95)/0.05));
  return v/5;
}
// right of A2 (Gamma -> Y)
var RQ=[0,0.00219,0.00354,0.00517,0.00705,0.00893,0.01107,0.01316,0.01557,0.0187,0.0225,0.0263,0.0295,0.0317,0.034,0.04,0.09];
var RW=[0,0.53,0.712,0.856,0.977,1.090,1.200,1.300,1.398,1.498,1.590,1.645,1.675,1.69,1.70,1.72,1.75];
var LW=[1.70,1.833,1.98,2.327,2.625,2.873,2.992,3.1];
var LQ=[0.021,0.0217,0.0221,0.0256,0.0318,0.0385,0.0451,0.051];
var RRW=[1.70,1.793,2.0,2.222,2.529,2.739,2.899,3.1];
var RRQ=[0.0445,0.0455,0.0505,0.0563,0.0673,0.0783,0.0898,0.105];
function interp(X,Y,x){
  var n=X.length;
  if(x<=X[0]) return Y[0];
  if(x>=X[n-1]) return Y[n-1];
  for(var i=1;i<n;i++){ if(x<=X[i]){
    var x0=X[i-1], x1=X[i], y0=Y[i-1], y1=Y[i], h=x1-x0, t=(x-x0)/h;
    var m0 = (i>1)? ((y1-Y[i-2])/(x1-X[i-2])) : (y1-y0)/h;
    var m1 = (i<n-1)? ((Y[i+1]-y0)/(X[i+1]-x0)) : (y1-y0)/h;
    var t2=t*t, t3=t2*t;
    return (2*t3-3*t2+1)*y0 + (t3-2*t2+t)*h*m0 + (-2*t3+3*t2)*y1 + (t3-t2)*h*m1;
  } }
  return Y[n-1];
}
function S(x){ return 1/(1+Math.exp(-x)); }
function fA2r(px,py){
  var q = 0.09*(px-952)/353.7, w = 3*(546.4-py)/527.65;
  var wr = interp(RQ,RW,q);
  var P = 10 - 7.5*sstep((q-0.025)/0.010) - 1.5*sstep((q-0.037)/0.01) - 0.7*sstep((q-0.047)/0.02);
  var d = w - wr;
  var sc = 0.55 + 0.45*sstep((wr-0.4)/1.0);
  var gu_ = 0.085*sc, gd_ = 0.075*sc;
  var xu = d/gu_; var g = d>0 ? (0.8*Math.exp(-xu*xu) + 0.2/(1+xu*xu)) : 1/(1+(d/gd_)*(d/gd_));
  g *= 0.35 + 0.65*sstep((q-0.0017)/0.004);
  var v = P*g;
  var sq = sstep((q-0.03)/0.02); var T = sstep((w-(1.74+0.035*sq))/(0.16-0.08*sq)+0.5);
  if(T>0){
    var qL = interp(LW,LQ,w), qR = interp(RRW,RRQ,w);
    var dw8 = Math.max(0,w-1.8); var qc = 0.0355 + 0.016*dw8 + 0.003*dw8*dw8, wg = 0.005 + 0.007*dw8;
    var sL = S((q-qL)/0.0018), sR = S((qR-q)/0.0025);
    var inside = sL*sR;
    var cont = (1.2 + 0.45*S((q-qL-0.007)/0.003))*inside + (1.0 + 0.35*gau((w-2.45)/0.4))*gau((q-qc)/wg)*inside
             + (1-sR)*(0.42 + 0.85*Math.exp(-Math.max(0,q-qR)/0.012))
             + (1-sL)*(0.08 + 0.6*Math.exp(-Math.max(0,qL-q)/0.006))
             + 0.45*gau((q-qL)/0.0022);
    v = v*(1-0.75*T*sstep((q-0.035)/0.015)) + cont*T;
  }
  v += -0.03 + 0.15*sstep((w-1.0)/0.8)*(1-sstep((q-0.03)/0.03));
  return v/5;
}
// panel B contour fill
function fB(px,py){
  var qx = -1 + 2*(px-215)/470, qy = 1 - 2*(py-760)/450.6;
  var r = Math.sqrt(qx*qx+qy*qy);
  var v = r>0? Math.abs(qy)/Math.sqrt(r) : 0;
  var lv = Math.floor(v/0.02)*0.02 + 0.01;
  return lv;
}
draw('ca1', 219, 18, fA1, 2);
draw('ca2', 599, 19, fA2m, 2);
draw('ca3', 959, 19, fA2r, 2);
draw('cb', 215, 760, fB, 2);
})();

</script>
</body></html>
